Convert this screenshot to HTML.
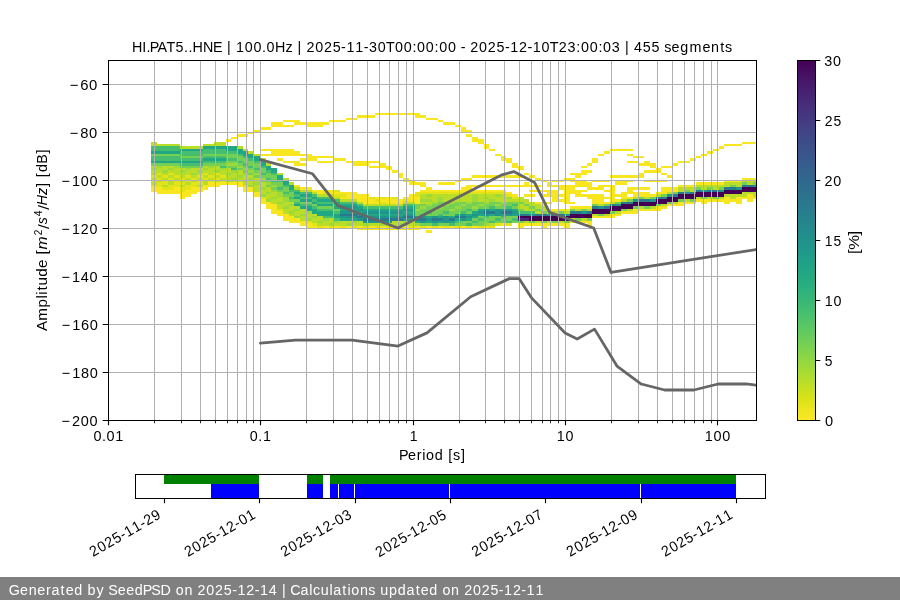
<!DOCTYPE html>
<html><head><meta charset="utf-8"><title>PPSD HI.PAT5..HNE</title><style>html,body{margin:0;padding:0;background:#fff;overflow:hidden}svg{display:block;will-change:transform}text{font-family:"Liberation Sans",sans-serif;}</style></head><body>
<svg width="900" height="600" viewBox="0 0 900 600">
<defs><clipPath id="axclip"><rect x="108" y="60" width="648" height="360"/></clipPath>
<linearGradient id="cbgrad" x1="0" y1="0" x2="0" y2="1"><stop offset="0.0000" stop-color="#440154"/><stop offset="0.0625" stop-color="#48186a"/><stop offset="0.1250" stop-color="#472d7b"/><stop offset="0.1875" stop-color="#424086"/><stop offset="0.2500" stop-color="#3b528b"/><stop offset="0.3125" stop-color="#33638d"/><stop offset="0.3750" stop-color="#2c728e"/><stop offset="0.4375" stop-color="#26828e"/><stop offset="0.5000" stop-color="#21918c"/><stop offset="0.5625" stop-color="#1fa088"/><stop offset="0.6250" stop-color="#28ae80"/><stop offset="0.6875" stop-color="#3fbc73"/><stop offset="0.7500" stop-color="#5ec962"/><stop offset="0.8125" stop-color="#84d44b"/><stop offset="0.8750" stop-color="#addc30"/><stop offset="0.9375" stop-color="#d8e219"/><stop offset="1.0000" stop-color="#fde725"/></linearGradient></defs>
<rect width="900" height="600" fill="#fff"/>
<g clip-path="url(#axclip)" shape-rendering="crispEdges"><rect x="151.00" y="141.6" width="5.75" height="4.8" fill="#bade28"/><rect x="151.00" y="146.4" width="5.75" height="4.8" fill="#45bf6f"/><rect x="151.00" y="151.2" width="5.75" height="2.4" fill="#22a785"/><rect x="151.00" y="153.6" width="5.75" height="2.4" fill="#74d055"/><rect x="151.00" y="156.0" width="5.75" height="4.8" fill="#45bf6f"/><rect x="151.00" y="160.8" width="5.75" height="2.4" fill="#22a785"/><rect x="151.00" y="163.2" width="5.75" height="2.4" fill="#74d055"/><rect x="151.00" y="165.6" width="5.75" height="2.4" fill="#bade28"/><rect x="151.00" y="168.0" width="5.75" height="2.4" fill="#9cd93b"/><rect x="151.00" y="170.4" width="5.75" height="4.8" fill="#bade28"/><rect x="151.00" y="175.2" width="5.75" height="2.4" fill="#e2e418"/><rect x="151.00" y="177.6" width="5.75" height="2.4" fill="#bade28"/><rect x="151.00" y="180.0" width="5.75" height="2.4" fill="#e2e418"/><rect x="151.00" y="182.4" width="5.75" height="2.4" fill="#bade28"/><rect x="151.00" y="184.8" width="5.75" height="2.4" fill="#e2e418"/><rect x="151.00" y="187.2" width="5.75" height="4.8" fill="#f7e620"/><rect x="156.73" y="144.0" width="5.75" height="2.4" fill="#bade28"/><rect x="156.73" y="146.4" width="5.75" height="4.8" fill="#45bf6f"/><rect x="156.73" y="151.2" width="5.75" height="2.4" fill="#22a785"/><rect x="156.73" y="153.6" width="5.75" height="2.4" fill="#74d055"/><rect x="156.73" y="156.0" width="5.75" height="4.8" fill="#45bf6f"/><rect x="156.73" y="160.8" width="5.75" height="2.4" fill="#22a785"/><rect x="156.73" y="163.2" width="5.75" height="2.4" fill="#74d055"/><rect x="156.73" y="165.6" width="5.75" height="2.4" fill="#9cd93b"/><rect x="156.73" y="168.0" width="5.75" height="4.8" fill="#bade28"/><rect x="156.73" y="172.8" width="5.75" height="2.4" fill="#e2e418"/><rect x="156.73" y="175.2" width="5.75" height="2.4" fill="#bade28"/><rect x="156.73" y="177.6" width="5.75" height="2.4" fill="#e2e418"/><rect x="156.73" y="180.0" width="5.75" height="2.4" fill="#bade28"/><rect x="156.73" y="182.4" width="5.75" height="4.8" fill="#e2e418"/><rect x="156.73" y="187.2" width="5.75" height="7.2" fill="#f7e620"/><rect x="162.47" y="144.0" width="5.75" height="2.4" fill="#bade28"/><rect x="162.47" y="146.4" width="5.75" height="4.8" fill="#45bf6f"/><rect x="162.47" y="151.2" width="5.75" height="2.4" fill="#22a785"/><rect x="162.47" y="153.6" width="5.75" height="2.4" fill="#74d055"/><rect x="162.47" y="156.0" width="5.75" height="4.8" fill="#45bf6f"/><rect x="162.47" y="160.8" width="5.75" height="2.4" fill="#22a785"/><rect x="162.47" y="163.2" width="5.75" height="2.4" fill="#74d055"/><rect x="162.47" y="165.6" width="5.75" height="4.8" fill="#bade28"/><rect x="162.47" y="170.4" width="5.75" height="2.4" fill="#9cd93b"/><rect x="162.47" y="172.8" width="5.75" height="2.4" fill="#bade28"/><rect x="162.47" y="175.2" width="5.75" height="2.4" fill="#e2e418"/><rect x="162.47" y="177.6" width="5.75" height="2.4" fill="#bade28"/><rect x="162.47" y="180.0" width="5.75" height="4.8" fill="#e2e418"/><rect x="162.47" y="184.8" width="5.75" height="2.4" fill="#bade28"/><rect x="162.47" y="187.2" width="5.75" height="2.4" fill="#e2e418"/><rect x="162.47" y="189.6" width="5.75" height="4.8" fill="#f7e620"/><rect x="168.20" y="144.0" width="5.75" height="2.4" fill="#bade28"/><rect x="168.20" y="146.4" width="5.75" height="4.8" fill="#45bf6f"/><rect x="168.20" y="151.2" width="5.75" height="2.4" fill="#22a785"/><rect x="168.20" y="153.6" width="5.75" height="2.4" fill="#74d055"/><rect x="168.20" y="156.0" width="5.75" height="4.8" fill="#45bf6f"/><rect x="168.20" y="160.8" width="5.75" height="2.4" fill="#22a785"/><rect x="168.20" y="163.2" width="5.75" height="2.4" fill="#74d055"/><rect x="168.20" y="165.6" width="5.75" height="2.4" fill="#bade28"/><rect x="168.20" y="168.0" width="5.75" height="2.4" fill="#9cd93b"/><rect x="168.20" y="170.4" width="5.75" height="2.4" fill="#bade28"/><rect x="168.20" y="172.8" width="5.75" height="2.4" fill="#e2e418"/><rect x="168.20" y="175.2" width="5.75" height="2.4" fill="#bade28"/><rect x="168.20" y="177.6" width="5.75" height="2.4" fill="#e2e418"/><rect x="168.20" y="180.0" width="5.75" height="4.8" fill="#bade28"/><rect x="168.20" y="184.8" width="5.75" height="4.8" fill="#e2e418"/><rect x="168.20" y="189.6" width="5.75" height="4.8" fill="#f7e620"/><rect x="173.93" y="144.0" width="5.75" height="2.4" fill="#bade28"/><rect x="173.93" y="146.4" width="5.75" height="4.8" fill="#45bf6f"/><rect x="173.93" y="151.2" width="5.75" height="2.4" fill="#22a785"/><rect x="173.93" y="153.6" width="5.75" height="2.4" fill="#74d055"/><rect x="173.93" y="156.0" width="5.75" height="4.8" fill="#45bf6f"/><rect x="173.93" y="160.8" width="5.75" height="2.4" fill="#22a785"/><rect x="173.93" y="163.2" width="5.75" height="2.4" fill="#74d055"/><rect x="173.93" y="165.6" width="5.75" height="2.4" fill="#9cd93b"/><rect x="173.93" y="168.0" width="5.75" height="7.2" fill="#bade28"/><rect x="173.93" y="175.2" width="5.75" height="2.4" fill="#e2e418"/><rect x="173.93" y="177.6" width="5.75" height="2.4" fill="#bade28"/><rect x="173.93" y="180.0" width="5.75" height="7.2" fill="#e2e418"/><rect x="173.93" y="187.2" width="5.75" height="7.2" fill="#f7e620"/><rect x="179.66" y="146.4" width="5.75" height="2.4" fill="#bade28"/><rect x="179.66" y="148.8" width="5.75" height="2.4" fill="#22a785"/><rect x="179.66" y="151.2" width="5.75" height="4.8" fill="#45bf6f"/><rect x="179.66" y="156.0" width="5.75" height="2.4" fill="#74d055"/><rect x="179.66" y="158.4" width="5.75" height="2.4" fill="#45bf6f"/><rect x="179.66" y="160.8" width="5.75" height="2.4" fill="#22a785"/><rect x="179.66" y="163.2" width="5.75" height="2.4" fill="#45bf6f"/><rect x="179.66" y="165.6" width="5.75" height="2.4" fill="#74d055"/><rect x="179.66" y="168.0" width="5.75" height="2.4" fill="#bade28"/><rect x="179.66" y="170.4" width="5.75" height="2.4" fill="#9cd93b"/><rect x="179.66" y="172.8" width="5.75" height="4.8" fill="#bade28"/><rect x="179.66" y="177.6" width="5.75" height="2.4" fill="#e2e418"/><rect x="179.66" y="180.0" width="5.75" height="2.4" fill="#bade28"/><rect x="179.66" y="182.4" width="5.75" height="2.4" fill="#e2e418"/><rect x="179.66" y="184.8" width="5.75" height="2.4" fill="#bade28"/><rect x="179.66" y="187.2" width="5.75" height="4.8" fill="#e2e418"/><rect x="179.66" y="192.0" width="5.75" height="7.2" fill="#f7e620"/><rect x="185.40" y="146.4" width="5.75" height="2.4" fill="#bade28"/><rect x="185.40" y="148.8" width="5.75" height="2.4" fill="#22a785"/><rect x="185.40" y="151.2" width="5.75" height="4.8" fill="#45bf6f"/><rect x="185.40" y="156.0" width="5.75" height="2.4" fill="#74d055"/><rect x="185.40" y="158.4" width="5.75" height="2.4" fill="#45bf6f"/><rect x="185.40" y="160.8" width="5.75" height="2.4" fill="#22a785"/><rect x="185.40" y="163.2" width="5.75" height="2.4" fill="#45bf6f"/><rect x="185.40" y="165.6" width="5.75" height="2.4" fill="#74d055"/><rect x="185.40" y="168.0" width="5.75" height="2.4" fill="#9cd93b"/><rect x="185.40" y="170.4" width="5.75" height="4.8" fill="#bade28"/><rect x="185.40" y="175.2" width="5.75" height="2.4" fill="#e2e418"/><rect x="185.40" y="177.6" width="5.75" height="2.4" fill="#bade28"/><rect x="185.40" y="180.0" width="5.75" height="2.4" fill="#e2e418"/><rect x="185.40" y="182.4" width="5.75" height="2.4" fill="#bade28"/><rect x="185.40" y="184.8" width="5.75" height="4.8" fill="#e2e418"/><rect x="185.40" y="189.6" width="5.75" height="7.2" fill="#f7e620"/><rect x="191.13" y="146.4" width="5.75" height="2.4" fill="#bade28"/><rect x="191.13" y="148.8" width="5.75" height="2.4" fill="#22a785"/><rect x="191.13" y="151.2" width="5.75" height="4.8" fill="#45bf6f"/><rect x="191.13" y="156.0" width="5.75" height="2.4" fill="#74d055"/><rect x="191.13" y="158.4" width="5.75" height="2.4" fill="#45bf6f"/><rect x="191.13" y="160.8" width="5.75" height="2.4" fill="#22a785"/><rect x="191.13" y="163.2" width="5.75" height="2.4" fill="#45bf6f"/><rect x="191.13" y="165.6" width="5.75" height="2.4" fill="#74d055"/><rect x="191.13" y="168.0" width="5.75" height="4.8" fill="#bade28"/><rect x="191.13" y="172.8" width="5.75" height="2.4" fill="#9cd93b"/><rect x="191.13" y="175.2" width="5.75" height="2.4" fill="#bade28"/><rect x="191.13" y="177.6" width="5.75" height="2.4" fill="#e2e418"/><rect x="191.13" y="180.0" width="5.75" height="2.4" fill="#bade28"/><rect x="191.13" y="182.4" width="5.75" height="4.8" fill="#e2e418"/><rect x="191.13" y="187.2" width="5.75" height="7.2" fill="#f7e620"/><rect x="196.86" y="146.4" width="5.75" height="2.4" fill="#bade28"/><rect x="196.86" y="148.8" width="5.75" height="2.4" fill="#22a785"/><rect x="196.86" y="151.2" width="5.75" height="4.8" fill="#45bf6f"/><rect x="196.86" y="156.0" width="5.75" height="2.4" fill="#74d055"/><rect x="196.86" y="158.4" width="5.75" height="2.4" fill="#45bf6f"/><rect x="196.86" y="160.8" width="5.75" height="2.4" fill="#22a785"/><rect x="196.86" y="163.2" width="5.75" height="2.4" fill="#45bf6f"/><rect x="196.86" y="165.6" width="5.75" height="2.4" fill="#74d055"/><rect x="196.86" y="168.0" width="5.75" height="2.4" fill="#bade28"/><rect x="196.86" y="170.4" width="5.75" height="2.4" fill="#9cd93b"/><rect x="196.86" y="172.8" width="5.75" height="2.4" fill="#bade28"/><rect x="196.86" y="175.2" width="5.75" height="2.4" fill="#e2e418"/><rect x="196.86" y="177.6" width="5.75" height="2.4" fill="#bade28"/><rect x="196.86" y="180.0" width="5.75" height="4.8" fill="#e2e418"/><rect x="196.86" y="184.8" width="5.75" height="2.4" fill="#bade28"/><rect x="196.86" y="187.2" width="5.75" height="4.8" fill="#f7e620"/><rect x="202.60" y="144.0" width="5.75" height="2.4" fill="#bade28"/><rect x="202.60" y="146.4" width="5.75" height="2.4" fill="#22a785"/><rect x="202.60" y="148.8" width="5.75" height="4.8" fill="#45bf6f"/><rect x="202.60" y="153.6" width="5.75" height="2.4" fill="#74d055"/><rect x="202.60" y="156.0" width="5.75" height="2.4" fill="#45bf6f"/><rect x="202.60" y="158.4" width="5.75" height="2.4" fill="#22a785"/><rect x="202.60" y="160.8" width="5.75" height="2.4" fill="#45bf6f"/><rect x="202.60" y="163.2" width="5.75" height="2.4" fill="#74d055"/><rect x="202.60" y="165.6" width="5.75" height="2.4" fill="#bade28"/><rect x="202.60" y="168.0" width="5.75" height="2.4" fill="#9cd93b"/><rect x="202.60" y="170.4" width="5.75" height="2.4" fill="#bade28"/><rect x="202.60" y="172.8" width="5.75" height="2.4" fill="#e2e418"/><rect x="202.60" y="175.2" width="5.75" height="2.4" fill="#bade28"/><rect x="202.60" y="177.6" width="5.75" height="2.4" fill="#e2e418"/><rect x="202.60" y="180.0" width="5.75" height="4.8" fill="#bade28"/><rect x="202.60" y="184.8" width="5.75" height="4.8" fill="#f7e620"/><rect x="208.33" y="144.0" width="5.75" height="2.4" fill="#bade28"/><rect x="208.33" y="146.4" width="5.75" height="2.4" fill="#22a785"/><rect x="208.33" y="148.8" width="5.75" height="4.8" fill="#45bf6f"/><rect x="208.33" y="153.6" width="5.75" height="2.4" fill="#74d055"/><rect x="208.33" y="156.0" width="5.75" height="2.4" fill="#45bf6f"/><rect x="208.33" y="158.4" width="5.75" height="2.4" fill="#22a785"/><rect x="208.33" y="160.8" width="5.75" height="2.4" fill="#45bf6f"/><rect x="208.33" y="163.2" width="5.75" height="2.4" fill="#74d055"/><rect x="208.33" y="165.6" width="5.75" height="2.4" fill="#9cd93b"/><rect x="208.33" y="168.0" width="5.75" height="7.2" fill="#bade28"/><rect x="208.33" y="175.2" width="5.75" height="2.4" fill="#e2e418"/><rect x="208.33" y="177.6" width="5.75" height="2.4" fill="#bade28"/><rect x="208.33" y="180.0" width="5.75" height="2.4" fill="#e2e418"/><rect x="208.33" y="182.4" width="5.75" height="4.8" fill="#f7e620"/><rect x="214.06" y="141.6" width="5.75" height="4.8" fill="#bade28"/><rect x="214.06" y="146.4" width="5.75" height="2.4" fill="#22a785"/><rect x="214.06" y="148.8" width="5.75" height="4.8" fill="#45bf6f"/><rect x="214.06" y="153.6" width="5.75" height="2.4" fill="#74d055"/><rect x="214.06" y="156.0" width="5.75" height="2.4" fill="#45bf6f"/><rect x="214.06" y="158.4" width="5.75" height="2.4" fill="#22a785"/><rect x="214.06" y="160.8" width="5.75" height="2.4" fill="#45bf6f"/><rect x="214.06" y="163.2" width="5.75" height="2.4" fill="#74d055"/><rect x="214.06" y="165.6" width="5.75" height="4.8" fill="#bade28"/><rect x="214.06" y="170.4" width="5.75" height="2.4" fill="#9cd93b"/><rect x="214.06" y="172.8" width="5.75" height="2.4" fill="#e2e418"/><rect x="214.06" y="175.2" width="5.75" height="2.4" fill="#bade28"/><rect x="214.06" y="177.6" width="5.75" height="2.4" fill="#e2e418"/><rect x="214.06" y="180.0" width="5.75" height="2.4" fill="#bade28"/><rect x="214.06" y="182.4" width="5.75" height="4.8" fill="#f7e620"/><rect x="219.80" y="141.6" width="5.75" height="4.8" fill="#bade28"/><rect x="219.80" y="146.4" width="5.75" height="2.4" fill="#22a785"/><rect x="219.80" y="148.8" width="5.75" height="4.8" fill="#45bf6f"/><rect x="219.80" y="153.6" width="5.75" height="2.4" fill="#74d055"/><rect x="219.80" y="156.0" width="5.75" height="2.4" fill="#45bf6f"/><rect x="219.80" y="158.4" width="5.75" height="2.4" fill="#22a785"/><rect x="219.80" y="160.8" width="5.75" height="2.4" fill="#45bf6f"/><rect x="219.80" y="163.2" width="5.75" height="2.4" fill="#74d055"/><rect x="219.80" y="165.6" width="5.75" height="2.4" fill="#45bf6f"/><rect x="219.80" y="168.0" width="5.75" height="2.4" fill="#9cd93b"/><rect x="219.80" y="170.4" width="5.75" height="4.8" fill="#bade28"/><rect x="219.80" y="175.2" width="5.75" height="2.4" fill="#e2e418"/><rect x="219.80" y="177.6" width="5.75" height="2.4" fill="#bade28"/><rect x="219.80" y="180.0" width="5.75" height="2.4" fill="#e2e418"/><rect x="219.80" y="182.4" width="5.75" height="2.4" fill="#f7e620"/><rect x="225.53" y="139.2" width="5.75" height="2.4" fill="#f7e620"/><rect x="225.53" y="146.4" width="5.75" height="4.8" fill="#22a785"/><rect x="225.53" y="151.2" width="5.75" height="2.4" fill="#45bf6f"/><rect x="225.53" y="153.6" width="5.75" height="4.8" fill="#74d055"/><rect x="225.53" y="158.4" width="5.75" height="2.4" fill="#45bf6f"/><rect x="225.53" y="160.8" width="5.75" height="2.4" fill="#74d055"/><rect x="225.53" y="163.2" width="5.75" height="2.4" fill="#9cd93b"/><rect x="225.53" y="165.6" width="5.75" height="2.4" fill="#74d055"/><rect x="225.53" y="168.0" width="5.75" height="4.8" fill="#bade28"/><rect x="225.53" y="172.8" width="5.75" height="2.4" fill="#9cd93b"/><rect x="225.53" y="175.2" width="5.75" height="4.8" fill="#bade28"/><rect x="225.53" y="180.0" width="5.75" height="2.4" fill="#9cd93b"/><rect x="225.53" y="182.4" width="5.75" height="2.4" fill="#f7e620"/><rect x="231.26" y="136.8" width="5.75" height="2.4" fill="#f7e620"/><rect x="231.26" y="146.4" width="5.75" height="4.8" fill="#22a785"/><rect x="231.26" y="151.2" width="5.75" height="2.4" fill="#45bf6f"/><rect x="231.26" y="153.6" width="5.75" height="4.8" fill="#74d055"/><rect x="231.26" y="158.4" width="5.75" height="2.4" fill="#45bf6f"/><rect x="231.26" y="160.8" width="5.75" height="2.4" fill="#74d055"/><rect x="231.26" y="163.2" width="5.75" height="2.4" fill="#9cd93b"/><rect x="231.26" y="165.6" width="5.75" height="2.4" fill="#74d055"/><rect x="231.26" y="168.0" width="5.75" height="2.4" fill="#45bf6f"/><rect x="231.26" y="170.4" width="5.75" height="2.4" fill="#9cd93b"/><rect x="231.26" y="172.8" width="5.75" height="4.8" fill="#bade28"/><rect x="231.26" y="177.6" width="5.75" height="2.4" fill="#9cd93b"/><rect x="231.26" y="180.0" width="5.75" height="2.4" fill="#bade28"/><rect x="231.26" y="182.4" width="5.75" height="2.4" fill="#f7e620"/><rect x="237.00" y="134.4" width="5.75" height="2.4" fill="#f7e620"/><rect x="237.00" y="146.4" width="5.75" height="2.4" fill="#bade28"/><rect x="237.00" y="148.8" width="5.75" height="4.8" fill="#22a785"/><rect x="237.00" y="153.6" width="5.75" height="2.4" fill="#45bf6f"/><rect x="237.00" y="156.0" width="5.75" height="4.8" fill="#74d055"/><rect x="237.00" y="160.8" width="5.75" height="2.4" fill="#45bf6f"/><rect x="237.00" y="163.2" width="5.75" height="2.4" fill="#74d055"/><rect x="237.00" y="165.6" width="5.75" height="2.4" fill="#9cd93b"/><rect x="237.00" y="168.0" width="5.75" height="2.4" fill="#74d055"/><rect x="237.00" y="170.4" width="5.75" height="4.8" fill="#bade28"/><rect x="237.00" y="175.2" width="5.75" height="2.4" fill="#9cd93b"/><rect x="237.00" y="177.6" width="5.75" height="4.8" fill="#bade28"/><rect x="237.00" y="182.4" width="5.75" height="4.8" fill="#f7e620"/><rect x="242.73" y="134.4" width="5.75" height="2.4" fill="#f7e620"/><rect x="242.73" y="148.8" width="5.75" height="2.4" fill="#bade28"/><rect x="242.73" y="151.2" width="5.75" height="4.8" fill="#22a785"/><rect x="242.73" y="156.0" width="5.75" height="2.4" fill="#45bf6f"/><rect x="242.73" y="158.4" width="5.75" height="4.8" fill="#74d055"/><rect x="242.73" y="163.2" width="5.75" height="2.4" fill="#45bf6f"/><rect x="242.73" y="165.6" width="5.75" height="2.4" fill="#74d055"/><rect x="242.73" y="168.0" width="5.75" height="2.4" fill="#9cd93b"/><rect x="242.73" y="170.4" width="5.75" height="2.4" fill="#74d055"/><rect x="242.73" y="172.8" width="5.75" height="2.4" fill="#9cd93b"/><rect x="242.73" y="175.2" width="5.75" height="4.8" fill="#bade28"/><rect x="242.73" y="180.0" width="5.75" height="2.4" fill="#9cd93b"/><rect x="242.73" y="182.4" width="5.75" height="2.4" fill="#bade28"/><rect x="242.73" y="184.8" width="5.75" height="2.4" fill="#e2e418"/><rect x="242.73" y="187.2" width="5.75" height="4.8" fill="#f7e620"/><rect x="248.46" y="132.0" width="5.75" height="2.4" fill="#f7e620"/><rect x="248.46" y="151.2" width="5.75" height="2.4" fill="#bade28"/><rect x="248.46" y="153.6" width="5.75" height="4.8" fill="#22a785"/><rect x="248.46" y="158.4" width="5.75" height="2.4" fill="#45bf6f"/><rect x="248.46" y="160.8" width="5.75" height="4.8" fill="#74d055"/><rect x="248.46" y="165.6" width="5.75" height="2.4" fill="#45bf6f"/><rect x="248.46" y="168.0" width="5.75" height="2.4" fill="#74d055"/><rect x="248.46" y="170.4" width="5.75" height="2.4" fill="#9cd93b"/><rect x="248.46" y="172.8" width="5.75" height="2.4" fill="#74d055"/><rect x="248.46" y="175.2" width="5.75" height="2.4" fill="#bade28"/><rect x="248.46" y="177.6" width="5.75" height="2.4" fill="#9cd93b"/><rect x="248.46" y="180.0" width="5.75" height="4.8" fill="#bade28"/><rect x="248.46" y="184.8" width="5.75" height="2.4" fill="#9cd93b"/><rect x="248.46" y="187.2" width="5.75" height="4.8" fill="#f7e620"/><rect x="254.19" y="129.6" width="5.75" height="2.4" fill="#f7e620"/><rect x="254.19" y="153.6" width="5.75" height="2.4" fill="#bade28"/><rect x="254.19" y="156.0" width="5.75" height="4.8" fill="#22a785"/><rect x="254.19" y="160.8" width="5.75" height="2.4" fill="#45bf6f"/><rect x="254.19" y="163.2" width="5.75" height="4.8" fill="#74d055"/><rect x="254.19" y="168.0" width="5.75" height="2.4" fill="#45bf6f"/><rect x="254.19" y="170.4" width="5.75" height="2.4" fill="#74d055"/><rect x="254.19" y="172.8" width="5.75" height="2.4" fill="#9cd93b"/><rect x="254.19" y="175.2" width="5.75" height="2.4" fill="#74d055"/><rect x="254.19" y="177.6" width="5.75" height="4.8" fill="#bade28"/><rect x="254.19" y="182.4" width="5.75" height="2.4" fill="#9cd93b"/><rect x="254.19" y="184.8" width="5.75" height="7.2" fill="#bade28"/><rect x="254.19" y="192.0" width="5.75" height="4.8" fill="#f7e620"/><rect x="259.93" y="127.2" width="5.75" height="2.4" fill="#f7e620"/><rect x="259.93" y="148.8" width="5.75" height="2.4" fill="#f7e620"/><rect x="259.93" y="153.6" width="5.75" height="2.4" fill="#f7e620"/><rect x="259.93" y="158.4" width="5.75" height="2.4" fill="#bade28"/><rect x="259.93" y="160.8" width="5.75" height="4.8" fill="#22a785"/><rect x="259.93" y="165.6" width="5.75" height="2.4" fill="#45bf6f"/><rect x="259.93" y="168.0" width="5.75" height="4.8" fill="#74d055"/><rect x="259.93" y="172.8" width="5.75" height="2.4" fill="#45bf6f"/><rect x="259.93" y="175.2" width="5.75" height="2.4" fill="#74d055"/><rect x="259.93" y="177.6" width="5.75" height="2.4" fill="#9cd93b"/><rect x="259.93" y="180.0" width="5.75" height="2.4" fill="#74d055"/><rect x="259.93" y="182.4" width="5.75" height="4.8" fill="#bade28"/><rect x="259.93" y="187.2" width="5.75" height="2.4" fill="#9cd93b"/><rect x="259.93" y="189.6" width="5.75" height="4.8" fill="#bade28"/><rect x="259.93" y="194.4" width="5.75" height="2.4" fill="#9cd93b"/><rect x="259.93" y="196.8" width="5.75" height="2.4" fill="#e2e418"/><rect x="259.93" y="199.2" width="5.75" height="4.8" fill="#f7e620"/><rect x="265.66" y="127.2" width="5.75" height="2.4" fill="#f7e620"/><rect x="265.66" y="148.8" width="5.75" height="2.4" fill="#f7e620"/><rect x="265.66" y="153.6" width="5.75" height="2.4" fill="#f7e620"/><rect x="265.66" y="163.2" width="5.75" height="2.4" fill="#bade28"/><rect x="265.66" y="165.6" width="5.75" height="4.8" fill="#22a785"/><rect x="265.66" y="170.4" width="5.75" height="2.4" fill="#45bf6f"/><rect x="265.66" y="172.8" width="5.75" height="4.8" fill="#74d055"/><rect x="265.66" y="177.6" width="5.75" height="2.4" fill="#45bf6f"/><rect x="265.66" y="180.0" width="5.75" height="2.4" fill="#74d055"/><rect x="265.66" y="182.4" width="5.75" height="2.4" fill="#9cd93b"/><rect x="265.66" y="184.8" width="5.75" height="2.4" fill="#74d055"/><rect x="265.66" y="187.2" width="5.75" height="4.8" fill="#bade28"/><rect x="265.66" y="192.0" width="5.75" height="2.4" fill="#9cd93b"/><rect x="265.66" y="194.4" width="5.75" height="4.8" fill="#bade28"/><rect x="265.66" y="199.2" width="5.75" height="2.4" fill="#9cd93b"/><rect x="265.66" y="201.6" width="5.75" height="7.2" fill="#f7e620"/><rect x="271.39" y="122.4" width="5.75" height="4.8" fill="#f7e620"/><rect x="271.39" y="148.8" width="5.75" height="7.2" fill="#f7e620"/><rect x="271.39" y="168.0" width="5.75" height="4.8" fill="#22a785"/><rect x="271.39" y="172.8" width="5.75" height="2.4" fill="#45bf6f"/><rect x="271.39" y="175.2" width="5.75" height="4.8" fill="#74d055"/><rect x="271.39" y="180.0" width="5.75" height="2.4" fill="#45bf6f"/><rect x="271.39" y="182.4" width="5.75" height="2.4" fill="#74d055"/><rect x="271.39" y="184.8" width="5.75" height="2.4" fill="#9cd93b"/><rect x="271.39" y="187.2" width="5.75" height="2.4" fill="#74d055"/><rect x="271.39" y="189.6" width="5.75" height="2.4" fill="#9cd93b"/><rect x="271.39" y="192.0" width="5.75" height="4.8" fill="#bade28"/><rect x="271.39" y="196.8" width="5.75" height="2.4" fill="#9cd93b"/><rect x="271.39" y="199.2" width="5.75" height="4.8" fill="#bade28"/><rect x="271.39" y="204.0" width="5.75" height="9.6" fill="#f7e620"/><rect x="277.13" y="122.4" width="5.75" height="4.8" fill="#f7e620"/><rect x="277.13" y="148.8" width="5.75" height="7.2" fill="#f7e620"/><rect x="277.13" y="158.4" width="5.75" height="2.4" fill="#f7e620"/><rect x="277.13" y="172.8" width="5.75" height="2.4" fill="#bade28"/><rect x="277.13" y="175.2" width="5.75" height="4.8" fill="#22a785"/><rect x="277.13" y="180.0" width="5.75" height="2.4" fill="#45bf6f"/><rect x="277.13" y="182.4" width="5.75" height="4.8" fill="#74d055"/><rect x="277.13" y="187.2" width="5.75" height="2.4" fill="#45bf6f"/><rect x="277.13" y="189.6" width="5.75" height="2.4" fill="#74d055"/><rect x="277.13" y="192.0" width="5.75" height="4.8" fill="#9cd93b"/><rect x="277.13" y="196.8" width="5.75" height="4.8" fill="#bade28"/><rect x="277.13" y="201.6" width="5.75" height="2.4" fill="#9cd93b"/><rect x="277.13" y="204.0" width="5.75" height="4.8" fill="#bade28"/><rect x="277.13" y="208.8" width="5.75" height="2.4" fill="#e2e418"/><rect x="277.13" y="211.2" width="5.75" height="4.8" fill="#f7e620"/><rect x="282.86" y="120.0" width="5.75" height="2.4" fill="#f7e620"/><rect x="282.86" y="124.8" width="5.75" height="2.4" fill="#f7e620"/><rect x="282.86" y="148.8" width="5.75" height="7.2" fill="#f7e620"/><rect x="282.86" y="160.8" width="5.75" height="2.4" fill="#f7e620"/><rect x="282.86" y="177.6" width="5.75" height="2.4" fill="#bade28"/><rect x="282.86" y="180.0" width="5.75" height="4.8" fill="#22a785"/><rect x="282.86" y="184.8" width="5.75" height="2.4" fill="#45bf6f"/><rect x="282.86" y="187.2" width="5.75" height="4.8" fill="#74d055"/><rect x="282.86" y="192.0" width="5.75" height="2.4" fill="#45bf6f"/><rect x="282.86" y="194.4" width="5.75" height="2.4" fill="#74d055"/><rect x="282.86" y="196.8" width="5.75" height="4.8" fill="#9cd93b"/><rect x="282.86" y="201.6" width="5.75" height="4.8" fill="#bade28"/><rect x="282.86" y="206.4" width="5.75" height="2.4" fill="#9cd93b"/><rect x="282.86" y="208.8" width="5.75" height="4.8" fill="#bade28"/><rect x="282.86" y="213.6" width="5.75" height="7.2" fill="#f7e620"/><rect x="288.59" y="120.0" width="5.75" height="2.4" fill="#f7e620"/><rect x="288.59" y="124.8" width="5.75" height="2.4" fill="#f7e620"/><rect x="288.59" y="148.8" width="5.75" height="7.2" fill="#f7e620"/><rect x="288.59" y="160.8" width="5.75" height="2.4" fill="#f7e620"/><rect x="288.59" y="182.4" width="5.75" height="2.4" fill="#bade28"/><rect x="288.59" y="184.8" width="5.75" height="4.8" fill="#22a785"/><rect x="288.59" y="189.6" width="5.75" height="2.4" fill="#45bf6f"/><rect x="288.59" y="192.0" width="5.75" height="4.8" fill="#74d055"/><rect x="288.59" y="196.8" width="5.75" height="2.4" fill="#45bf6f"/><rect x="288.59" y="199.2" width="5.75" height="2.4" fill="#74d055"/><rect x="288.59" y="201.6" width="5.75" height="2.4" fill="#bade28"/><rect x="288.59" y="204.0" width="5.75" height="2.4" fill="#9cd93b"/><rect x="288.59" y="206.4" width="5.75" height="4.8" fill="#bade28"/><rect x="288.59" y="211.2" width="5.75" height="2.4" fill="#9cd93b"/><rect x="288.59" y="213.6" width="5.75" height="2.4" fill="#bade28"/><rect x="288.59" y="216.0" width="5.75" height="7.2" fill="#f7e620"/><rect x="294.32" y="120.0" width="5.75" height="4.8" fill="#f7e620"/><rect x="294.32" y="151.2" width="5.75" height="4.8" fill="#f7e620"/><rect x="294.32" y="160.8" width="5.75" height="4.8" fill="#f7e620"/><rect x="294.32" y="184.8" width="5.75" height="2.4" fill="#f7e620"/><rect x="294.32" y="187.2" width="5.75" height="2.4" fill="#bade28"/><rect x="294.32" y="189.6" width="5.75" height="2.4" fill="#45bf6f"/><rect x="294.32" y="192.0" width="5.75" height="2.4" fill="#22a785"/><rect x="294.32" y="194.4" width="5.75" height="2.4" fill="#45bf6f"/><rect x="294.32" y="196.8" width="5.75" height="2.4" fill="#22a785"/><rect x="294.32" y="199.2" width="5.75" height="2.4" fill="#74d055"/><rect x="294.32" y="201.6" width="5.75" height="2.4" fill="#45bf6f"/><rect x="294.32" y="204.0" width="5.75" height="2.4" fill="#22a785"/><rect x="294.32" y="206.4" width="5.75" height="2.4" fill="#bade28"/><rect x="294.32" y="208.8" width="5.75" height="2.4" fill="#9cd93b"/><rect x="294.32" y="211.2" width="5.75" height="4.8" fill="#bade28"/><rect x="294.32" y="216.0" width="5.75" height="2.4" fill="#9cd93b"/><rect x="294.32" y="218.4" width="5.75" height="4.8" fill="#f7e620"/><rect x="300.06" y="122.4" width="5.75" height="2.4" fill="#f7e620"/><rect x="300.06" y="153.6" width="5.75" height="2.4" fill="#f7e620"/><rect x="300.06" y="158.4" width="5.75" height="2.4" fill="#f7e620"/><rect x="300.06" y="163.2" width="5.75" height="2.4" fill="#f7e620"/><rect x="300.06" y="187.2" width="5.75" height="2.4" fill="#f7e620"/><rect x="300.06" y="189.6" width="5.75" height="2.4" fill="#bade28"/><rect x="300.06" y="192.0" width="5.75" height="2.4" fill="#45bf6f"/><rect x="300.06" y="194.4" width="5.75" height="2.4" fill="#22a785"/><rect x="300.06" y="196.8" width="5.75" height="2.4" fill="#45bf6f"/><rect x="300.06" y="199.2" width="5.75" height="2.4" fill="#22a785"/><rect x="300.06" y="201.6" width="5.75" height="2.4" fill="#74d055"/><rect x="300.06" y="204.0" width="5.75" height="2.4" fill="#45bf6f"/><rect x="300.06" y="206.4" width="5.75" height="2.4" fill="#22a785"/><rect x="300.06" y="208.8" width="5.75" height="4.8" fill="#bade28"/><rect x="300.06" y="213.6" width="5.75" height="2.4" fill="#9cd93b"/><rect x="300.06" y="216.0" width="5.75" height="4.8" fill="#bade28"/><rect x="300.06" y="220.8" width="5.75" height="4.8" fill="#f7e620"/><rect x="305.79" y="122.4" width="5.75" height="4.8" fill="#f7e620"/><rect x="305.79" y="153.6" width="5.75" height="7.2" fill="#f7e620"/><rect x="305.79" y="187.2" width="5.75" height="2.4" fill="#f7e620"/><rect x="305.79" y="189.6" width="5.75" height="2.4" fill="#bade28"/><rect x="305.79" y="192.0" width="5.75" height="2.4" fill="#45bf6f"/><rect x="305.79" y="194.4" width="5.75" height="2.4" fill="#22a785"/><rect x="305.79" y="196.8" width="5.75" height="2.4" fill="#45bf6f"/><rect x="305.79" y="199.2" width="5.75" height="2.4" fill="#22a785"/><rect x="305.79" y="201.6" width="5.75" height="2.4" fill="#74d055"/><rect x="305.79" y="204.0" width="5.75" height="2.4" fill="#45bf6f"/><rect x="305.79" y="206.4" width="5.75" height="4.8" fill="#22a785"/><rect x="305.79" y="211.2" width="5.75" height="2.4" fill="#9cd93b"/><rect x="305.79" y="213.6" width="5.75" height="4.8" fill="#bade28"/><rect x="305.79" y="218.4" width="5.75" height="2.4" fill="#9cd93b"/><rect x="305.79" y="220.8" width="5.75" height="2.4" fill="#e2e418"/><rect x="305.79" y="223.2" width="5.75" height="4.8" fill="#f7e620"/><rect x="311.52" y="122.4" width="5.75" height="4.8" fill="#f7e620"/><rect x="311.52" y="156.0" width="5.75" height="4.8" fill="#f7e620"/><rect x="311.52" y="189.6" width="5.75" height="2.4" fill="#f7e620"/><rect x="311.52" y="192.0" width="5.75" height="2.4" fill="#bade28"/><rect x="311.52" y="194.4" width="5.75" height="2.4" fill="#45bf6f"/><rect x="311.52" y="196.8" width="5.75" height="2.4" fill="#22a785"/><rect x="311.52" y="199.2" width="5.75" height="2.4" fill="#45bf6f"/><rect x="311.52" y="201.6" width="5.75" height="2.4" fill="#22a785"/><rect x="311.52" y="204.0" width="5.75" height="2.4" fill="#74d055"/><rect x="311.52" y="206.4" width="5.75" height="2.4" fill="#45bf6f"/><rect x="311.52" y="208.8" width="5.75" height="4.8" fill="#22a785"/><rect x="311.52" y="213.6" width="5.75" height="2.4" fill="#bade28"/><rect x="311.52" y="216.0" width="5.75" height="2.4" fill="#9cd93b"/><rect x="311.52" y="218.4" width="5.75" height="4.8" fill="#bade28"/><rect x="311.52" y="223.2" width="5.75" height="2.4" fill="#e2e418"/><rect x="311.52" y="225.6" width="5.75" height="2.4" fill="#f7e620"/><rect x="317.26" y="122.4" width="5.75" height="4.8" fill="#f7e620"/><rect x="317.26" y="156.0" width="5.75" height="2.4" fill="#f7e620"/><rect x="317.26" y="160.8" width="5.75" height="2.4" fill="#f7e620"/><rect x="317.26" y="189.6" width="5.75" height="4.8" fill="#f7e620"/><rect x="317.26" y="194.4" width="5.75" height="2.4" fill="#bade28"/><rect x="317.26" y="196.8" width="5.75" height="2.4" fill="#45bf6f"/><rect x="317.26" y="199.2" width="5.75" height="2.4" fill="#22a785"/><rect x="317.26" y="201.6" width="5.75" height="2.4" fill="#45bf6f"/><rect x="317.26" y="204.0" width="5.75" height="2.4" fill="#22a785"/><rect x="317.26" y="206.4" width="5.75" height="2.4" fill="#74d055"/><rect x="317.26" y="208.8" width="5.75" height="2.4" fill="#45bf6f"/><rect x="317.26" y="211.2" width="5.75" height="4.8" fill="#22a785"/><rect x="317.26" y="216.0" width="5.75" height="4.8" fill="#bade28"/><rect x="317.26" y="220.8" width="5.75" height="2.4" fill="#9cd93b"/><rect x="317.26" y="223.2" width="5.75" height="2.4" fill="#bade28"/><rect x="317.26" y="225.6" width="5.75" height="2.4" fill="#e2e418"/><rect x="322.99" y="122.4" width="5.75" height="2.4" fill="#f7e620"/><rect x="322.99" y="156.0" width="5.75" height="2.4" fill="#f7e620"/><rect x="322.99" y="160.8" width="5.75" height="2.4" fill="#f7e620"/><rect x="322.99" y="189.6" width="5.75" height="2.4" fill="#f7e620"/><rect x="322.99" y="192.0" width="5.75" height="2.4" fill="#e2e418"/><rect x="322.99" y="194.4" width="5.75" height="2.4" fill="#bade28"/><rect x="322.99" y="196.8" width="5.75" height="2.4" fill="#45bf6f"/><rect x="322.99" y="199.2" width="5.75" height="2.4" fill="#22a785"/><rect x="322.99" y="201.6" width="5.75" height="2.4" fill="#45bf6f"/><rect x="322.99" y="204.0" width="5.75" height="2.4" fill="#22a785"/><rect x="322.99" y="206.4" width="5.75" height="2.4" fill="#74d055"/><rect x="322.99" y="208.8" width="5.75" height="2.4" fill="#45bf6f"/><rect x="322.99" y="211.2" width="5.75" height="4.8" fill="#22a785"/><rect x="322.99" y="216.0" width="5.75" height="2.4" fill="#45bf6f"/><rect x="322.99" y="218.4" width="5.75" height="2.4" fill="#9cd93b"/><rect x="322.99" y="220.8" width="5.75" height="4.8" fill="#bade28"/><rect x="322.99" y="225.6" width="5.75" height="2.4" fill="#f7e620"/><rect x="328.72" y="120.0" width="5.75" height="2.4" fill="#f7e620"/><rect x="328.72" y="156.0" width="5.75" height="2.4" fill="#f7e620"/><rect x="328.72" y="160.8" width="5.75" height="2.4" fill="#f7e620"/><rect x="328.72" y="189.6" width="5.75" height="4.8" fill="#f7e620"/><rect x="328.72" y="194.4" width="5.75" height="2.4" fill="#bade28"/><rect x="328.72" y="196.8" width="5.75" height="2.4" fill="#45bf6f"/><rect x="328.72" y="199.2" width="5.75" height="2.4" fill="#22a785"/><rect x="328.72" y="201.6" width="5.75" height="2.4" fill="#45bf6f"/><rect x="328.72" y="204.0" width="5.75" height="2.4" fill="#22a785"/><rect x="328.72" y="206.4" width="5.75" height="2.4" fill="#74d055"/><rect x="328.72" y="208.8" width="5.75" height="2.4" fill="#45bf6f"/><rect x="328.72" y="211.2" width="5.75" height="4.8" fill="#22a785"/><rect x="328.72" y="216.0" width="5.75" height="2.4" fill="#45bf6f"/><rect x="328.72" y="218.4" width="5.75" height="4.8" fill="#bade28"/><rect x="328.72" y="223.2" width="5.75" height="2.4" fill="#9cd93b"/><rect x="328.72" y="225.6" width="5.75" height="2.4" fill="#e2e418"/><rect x="334.46" y="120.0" width="5.75" height="2.4" fill="#f7e620"/><rect x="334.46" y="158.4" width="5.75" height="2.4" fill="#f7e620"/><rect x="334.46" y="189.6" width="5.75" height="2.4" fill="#e2e418"/><rect x="334.46" y="192.0" width="5.75" height="2.4" fill="#f7e620"/><rect x="334.46" y="194.4" width="5.75" height="2.4" fill="#e2e418"/><rect x="334.46" y="196.8" width="5.75" height="2.4" fill="#bade28"/><rect x="334.46" y="199.2" width="5.75" height="2.4" fill="#45bf6f"/><rect x="334.46" y="201.6" width="5.75" height="2.4" fill="#22a785"/><rect x="334.46" y="204.0" width="5.75" height="2.4" fill="#45bf6f"/><rect x="334.46" y="206.4" width="5.75" height="2.4" fill="#22a785"/><rect x="334.46" y="208.8" width="5.75" height="2.4" fill="#74d055"/><rect x="334.46" y="211.2" width="5.75" height="2.4" fill="#45bf6f"/><rect x="334.46" y="213.6" width="5.75" height="4.8" fill="#22a785"/><rect x="334.46" y="218.4" width="5.75" height="2.4" fill="#45bf6f"/><rect x="334.46" y="220.8" width="5.75" height="2.4" fill="#9cd93b"/><rect x="334.46" y="223.2" width="5.75" height="2.4" fill="#bade28"/><rect x="334.46" y="225.6" width="5.75" height="2.4" fill="#f7e620"/><rect x="340.19" y="120.0" width="5.75" height="2.4" fill="#f7e620"/><rect x="340.19" y="158.4" width="5.75" height="2.4" fill="#f7e620"/><rect x="340.19" y="192.0" width="5.75" height="2.4" fill="#f7e620"/><rect x="340.19" y="194.4" width="5.75" height="2.4" fill="#e2e418"/><rect x="340.19" y="196.8" width="5.75" height="2.4" fill="#f7e620"/><rect x="340.19" y="199.2" width="5.75" height="2.4" fill="#bade28"/><rect x="340.19" y="201.6" width="5.75" height="2.4" fill="#45bf6f"/><rect x="340.19" y="204.0" width="5.75" height="2.4" fill="#22a785"/><rect x="340.19" y="206.4" width="5.75" height="2.4" fill="#1f958b"/><rect x="340.19" y="208.8" width="5.75" height="2.4" fill="#22a785"/><rect x="340.19" y="211.2" width="5.75" height="2.4" fill="#1f958b"/><rect x="340.19" y="213.6" width="5.75" height="2.4" fill="#29798e"/><rect x="340.19" y="216.0" width="5.75" height="2.4" fill="#1f958b"/><rect x="340.19" y="218.4" width="5.75" height="2.4" fill="#22a785"/><rect x="340.19" y="220.8" width="5.75" height="4.8" fill="#bade28"/><rect x="340.19" y="225.6" width="5.75" height="2.4" fill="#e2e418"/><rect x="345.92" y="117.6" width="5.75" height="2.4" fill="#f7e620"/><rect x="345.92" y="160.8" width="5.75" height="2.4" fill="#f7e620"/><rect x="345.92" y="192.0" width="5.75" height="7.2" fill="#f7e620"/><rect x="345.92" y="199.2" width="5.75" height="2.4" fill="#bade28"/><rect x="345.92" y="201.6" width="5.75" height="2.4" fill="#45bf6f"/><rect x="345.92" y="204.0" width="5.75" height="2.4" fill="#22a785"/><rect x="345.92" y="206.4" width="5.75" height="2.4" fill="#1f958b"/><rect x="345.92" y="208.8" width="5.75" height="2.4" fill="#22a785"/><rect x="345.92" y="211.2" width="5.75" height="2.4" fill="#1f958b"/><rect x="345.92" y="213.6" width="5.75" height="2.4" fill="#29798e"/><rect x="345.92" y="216.0" width="5.75" height="2.4" fill="#1f958b"/><rect x="345.92" y="218.4" width="5.75" height="2.4" fill="#22a785"/><rect x="345.92" y="220.8" width="5.75" height="2.4" fill="#bade28"/><rect x="345.92" y="223.2" width="5.75" height="2.4" fill="#9cd93b"/><rect x="345.92" y="225.6" width="5.75" height="2.4" fill="#f7e620"/><rect x="351.65" y="117.6" width="5.75" height="2.4" fill="#f7e620"/><rect x="351.65" y="160.8" width="5.75" height="4.8" fill="#f7e620"/><rect x="351.65" y="192.0" width="5.75" height="7.2" fill="#f7e620"/><rect x="351.65" y="199.2" width="5.75" height="2.4" fill="#bade28"/><rect x="351.65" y="201.6" width="5.75" height="2.4" fill="#45bf6f"/><rect x="351.65" y="204.0" width="5.75" height="2.4" fill="#22a785"/><rect x="351.65" y="206.4" width="5.75" height="2.4" fill="#1f958b"/><rect x="351.65" y="208.8" width="5.75" height="2.4" fill="#22a785"/><rect x="351.65" y="211.2" width="5.75" height="2.4" fill="#1f958b"/><rect x="351.65" y="213.6" width="5.75" height="2.4" fill="#29798e"/><rect x="351.65" y="216.0" width="5.75" height="2.4" fill="#1f958b"/><rect x="351.65" y="218.4" width="5.75" height="2.4" fill="#22a785"/><rect x="351.65" y="220.8" width="5.75" height="2.4" fill="#9cd93b"/><rect x="351.65" y="223.2" width="5.75" height="2.4" fill="#bade28"/><rect x="351.65" y="225.6" width="5.75" height="2.4" fill="#e2e418"/><rect x="357.39" y="115.2" width="5.75" height="2.4" fill="#f7e620"/><rect x="357.39" y="160.8" width="5.75" height="4.8" fill="#f7e620"/><rect x="357.39" y="194.4" width="5.75" height="7.2" fill="#f7e620"/><rect x="357.39" y="201.6" width="5.75" height="2.4" fill="#bade28"/><rect x="357.39" y="204.0" width="5.75" height="2.4" fill="#45bf6f"/><rect x="357.39" y="206.4" width="5.75" height="2.4" fill="#22a785"/><rect x="357.39" y="208.8" width="5.75" height="2.4" fill="#1f958b"/><rect x="357.39" y="211.2" width="5.75" height="2.4" fill="#22a785"/><rect x="357.39" y="213.6" width="5.75" height="2.4" fill="#1f958b"/><rect x="357.39" y="216.0" width="5.75" height="2.4" fill="#29798e"/><rect x="357.39" y="218.4" width="5.75" height="2.4" fill="#1f958b"/><rect x="357.39" y="220.8" width="5.75" height="4.8" fill="#bade28"/><rect x="357.39" y="225.6" width="5.75" height="4.8" fill="#f7e620"/><rect x="363.12" y="115.2" width="5.75" height="2.4" fill="#f7e620"/><rect x="363.12" y="160.8" width="5.75" height="4.8" fill="#f7e620"/><rect x="363.12" y="194.4" width="5.75" height="9.6" fill="#f7e620"/><rect x="363.12" y="204.0" width="5.75" height="2.4" fill="#bade28"/><rect x="363.12" y="206.4" width="5.75" height="2.4" fill="#45bf6f"/><rect x="363.12" y="208.8" width="5.75" height="2.4" fill="#22a785"/><rect x="363.12" y="211.2" width="5.75" height="2.4" fill="#1f958b"/><rect x="363.12" y="213.6" width="5.75" height="2.4" fill="#22a785"/><rect x="363.12" y="216.0" width="5.75" height="2.4" fill="#1f958b"/><rect x="363.12" y="218.4" width="5.75" height="2.4" fill="#29798e"/><rect x="363.12" y="220.8" width="5.75" height="2.4" fill="#1f958b"/><rect x="363.12" y="223.2" width="5.75" height="2.4" fill="#9cd93b"/><rect x="363.12" y="225.6" width="5.75" height="2.4" fill="#e2e418"/><rect x="363.12" y="228.0" width="5.75" height="2.4" fill="#f7e620"/><rect x="368.85" y="115.2" width="5.75" height="2.4" fill="#f7e620"/><rect x="368.85" y="160.8" width="5.75" height="2.4" fill="#f7e620"/><rect x="368.85" y="165.6" width="5.75" height="2.4" fill="#f7e620"/><rect x="368.85" y="196.8" width="5.75" height="2.4" fill="#e2e418"/><rect x="368.85" y="199.2" width="5.75" height="4.8" fill="#f7e620"/><rect x="368.85" y="204.0" width="5.75" height="2.4" fill="#bade28"/><rect x="368.85" y="206.4" width="5.75" height="2.4" fill="#45bf6f"/><rect x="368.85" y="208.8" width="5.75" height="2.4" fill="#22a785"/><rect x="368.85" y="211.2" width="5.75" height="2.4" fill="#1f958b"/><rect x="368.85" y="213.6" width="5.75" height="2.4" fill="#22a785"/><rect x="368.85" y="216.0" width="5.75" height="2.4" fill="#1f958b"/><rect x="368.85" y="218.4" width="5.75" height="2.4" fill="#29798e"/><rect x="368.85" y="220.8" width="5.75" height="2.4" fill="#1f958b"/><rect x="368.85" y="223.2" width="5.75" height="2.4" fill="#bade28"/><rect x="368.85" y="225.6" width="5.75" height="4.8" fill="#f7e620"/><rect x="374.59" y="112.8" width="5.75" height="2.4" fill="#f7e620"/><rect x="374.59" y="160.8" width="5.75" height="2.4" fill="#f7e620"/><rect x="374.59" y="165.6" width="5.75" height="2.4" fill="#f7e620"/><rect x="374.59" y="196.8" width="5.75" height="2.4" fill="#f7e620"/><rect x="374.59" y="199.2" width="5.75" height="2.4" fill="#e2e418"/><rect x="374.59" y="201.6" width="5.75" height="2.4" fill="#f7e620"/><rect x="374.59" y="204.0" width="5.75" height="2.4" fill="#bade28"/><rect x="374.59" y="206.4" width="5.75" height="2.4" fill="#45bf6f"/><rect x="374.59" y="208.8" width="5.75" height="2.4" fill="#22a785"/><rect x="374.59" y="211.2" width="5.75" height="2.4" fill="#1f958b"/><rect x="374.59" y="213.6" width="5.75" height="2.4" fill="#22a785"/><rect x="374.59" y="216.0" width="5.75" height="2.4" fill="#1f958b"/><rect x="374.59" y="218.4" width="5.75" height="2.4" fill="#29798e"/><rect x="374.59" y="220.8" width="5.75" height="2.4" fill="#1f958b"/><rect x="374.59" y="223.2" width="5.75" height="2.4" fill="#bade28"/><rect x="374.59" y="225.6" width="5.75" height="2.4" fill="#e2e418"/><rect x="374.59" y="228.0" width="5.75" height="2.4" fill="#f7e620"/><rect x="380.32" y="112.8" width="5.75" height="2.4" fill="#f7e620"/><rect x="380.32" y="163.2" width="5.75" height="4.8" fill="#f7e620"/><rect x="380.32" y="196.8" width="5.75" height="2.4" fill="#e2e418"/><rect x="380.32" y="199.2" width="5.75" height="2.4" fill="#f7e620"/><rect x="380.32" y="201.6" width="5.75" height="2.4" fill="#e2e418"/><rect x="380.32" y="204.0" width="5.75" height="2.4" fill="#bade28"/><rect x="380.32" y="206.4" width="5.75" height="2.4" fill="#45bf6f"/><rect x="380.32" y="208.8" width="5.75" height="2.4" fill="#22a785"/><rect x="380.32" y="211.2" width="5.75" height="2.4" fill="#1f958b"/><rect x="380.32" y="213.6" width="5.75" height="2.4" fill="#22a785"/><rect x="380.32" y="216.0" width="5.75" height="2.4" fill="#1f958b"/><rect x="380.32" y="218.4" width="5.75" height="2.4" fill="#29798e"/><rect x="380.32" y="220.8" width="5.75" height="2.4" fill="#1f958b"/><rect x="380.32" y="223.2" width="5.75" height="2.4" fill="#9cd93b"/><rect x="380.32" y="225.6" width="5.75" height="4.8" fill="#f7e620"/><rect x="386.05" y="112.8" width="5.75" height="2.4" fill="#f7e620"/><rect x="386.05" y="165.6" width="5.75" height="4.8" fill="#f7e620"/><rect x="386.05" y="196.8" width="5.75" height="7.2" fill="#f7e620"/><rect x="386.05" y="204.0" width="5.75" height="2.4" fill="#bade28"/><rect x="386.05" y="206.4" width="5.75" height="2.4" fill="#45bf6f"/><rect x="386.05" y="208.8" width="5.75" height="2.4" fill="#22a785"/><rect x="386.05" y="211.2" width="5.75" height="2.4" fill="#1f958b"/><rect x="386.05" y="213.6" width="5.75" height="2.4" fill="#22a785"/><rect x="386.05" y="216.0" width="5.75" height="2.4" fill="#1f958b"/><rect x="386.05" y="218.4" width="5.75" height="2.4" fill="#29798e"/><rect x="386.05" y="220.8" width="5.75" height="2.4" fill="#1f958b"/><rect x="386.05" y="223.2" width="5.75" height="2.4" fill="#bade28"/><rect x="386.05" y="225.6" width="5.75" height="2.4" fill="#e2e418"/><rect x="386.05" y="228.0" width="5.75" height="2.4" fill="#f7e620"/><rect x="391.79" y="112.8" width="5.75" height="2.4" fill="#f7e620"/><rect x="391.79" y="170.4" width="5.75" height="2.4" fill="#f7e620"/><rect x="391.79" y="196.8" width="5.75" height="2.4" fill="#e2e418"/><rect x="391.79" y="199.2" width="5.75" height="4.8" fill="#f7e620"/><rect x="391.79" y="204.0" width="5.75" height="2.4" fill="#bade28"/><rect x="391.79" y="206.4" width="5.75" height="2.4" fill="#45bf6f"/><rect x="391.79" y="208.8" width="5.75" height="2.4" fill="#22a785"/><rect x="391.79" y="211.2" width="5.75" height="2.4" fill="#1f958b"/><rect x="391.79" y="213.6" width="5.75" height="2.4" fill="#22a785"/><rect x="391.79" y="216.0" width="5.75" height="2.4" fill="#1f958b"/><rect x="391.79" y="218.4" width="5.75" height="2.4" fill="#29798e"/><rect x="391.79" y="220.8" width="5.75" height="4.8" fill="#bade28"/><rect x="391.79" y="225.6" width="5.75" height="4.8" fill="#f7e620"/><rect x="397.52" y="112.8" width="5.75" height="2.4" fill="#f7e620"/><rect x="397.52" y="172.8" width="5.75" height="4.8" fill="#f7e620"/><rect x="397.52" y="199.2" width="5.75" height="4.8" fill="#f7e620"/><rect x="397.52" y="204.0" width="5.75" height="2.4" fill="#bade28"/><rect x="397.52" y="206.4" width="5.75" height="2.4" fill="#45bf6f"/><rect x="397.52" y="208.8" width="5.75" height="2.4" fill="#22a785"/><rect x="397.52" y="211.2" width="5.75" height="2.4" fill="#1f958b"/><rect x="397.52" y="213.6" width="5.75" height="2.4" fill="#22a785"/><rect x="397.52" y="216.0" width="5.75" height="2.4" fill="#1f958b"/><rect x="397.52" y="218.4" width="5.75" height="2.4" fill="#29798e"/><rect x="397.52" y="220.8" width="5.75" height="2.4" fill="#bade28"/><rect x="397.52" y="223.2" width="5.75" height="2.4" fill="#9cd93b"/><rect x="397.52" y="225.6" width="5.75" height="2.4" fill="#e2e418"/><rect x="397.52" y="228.0" width="5.75" height="2.4" fill="#f7e620"/><rect x="403.25" y="112.8" width="5.75" height="2.4" fill="#f7e620"/><rect x="403.25" y="177.6" width="5.75" height="4.8" fill="#f7e620"/><rect x="403.25" y="196.8" width="5.75" height="2.4" fill="#f7e620"/><rect x="403.25" y="199.2" width="5.75" height="2.4" fill="#e2e418"/><rect x="403.25" y="201.6" width="5.75" height="2.4" fill="#bade28"/><rect x="403.25" y="204.0" width="5.75" height="2.4" fill="#45bf6f"/><rect x="403.25" y="206.4" width="5.75" height="2.4" fill="#22a785"/><rect x="403.25" y="208.8" width="5.75" height="2.4" fill="#1f958b"/><rect x="403.25" y="211.2" width="5.75" height="2.4" fill="#22a785"/><rect x="403.25" y="213.6" width="5.75" height="2.4" fill="#1f958b"/><rect x="403.25" y="216.0" width="5.75" height="2.4" fill="#29798e"/><rect x="403.25" y="218.4" width="5.75" height="2.4" fill="#1f958b"/><rect x="403.25" y="220.8" width="5.75" height="2.4" fill="#9cd93b"/><rect x="403.25" y="223.2" width="5.75" height="2.4" fill="#bade28"/><rect x="403.25" y="225.6" width="5.75" height="4.8" fill="#f7e620"/><rect x="408.98" y="112.8" width="5.75" height="2.4" fill="#f7e620"/><rect x="408.98" y="180.0" width="5.75" height="4.8" fill="#f7e620"/><rect x="408.98" y="194.4" width="5.75" height="7.2" fill="#f7e620"/><rect x="408.98" y="201.6" width="5.75" height="2.4" fill="#bade28"/><rect x="408.98" y="204.0" width="5.75" height="2.4" fill="#45bf6f"/><rect x="408.98" y="206.4" width="5.75" height="2.4" fill="#22a785"/><rect x="408.98" y="208.8" width="5.75" height="2.4" fill="#1f958b"/><rect x="408.98" y="211.2" width="5.75" height="2.4" fill="#22a785"/><rect x="408.98" y="213.6" width="5.75" height="2.4" fill="#1f958b"/><rect x="408.98" y="216.0" width="5.75" height="2.4" fill="#29798e"/><rect x="408.98" y="218.4" width="5.75" height="2.4" fill="#1f958b"/><rect x="408.98" y="220.8" width="5.75" height="4.8" fill="#bade28"/><rect x="408.98" y="225.6" width="5.75" height="2.4" fill="#e2e418"/><rect x="408.98" y="228.0" width="5.75" height="2.4" fill="#f7e620"/><rect x="414.72" y="112.8" width="5.75" height="4.8" fill="#f7e620"/><rect x="414.72" y="182.4" width="5.75" height="2.4" fill="#f7e620"/><rect x="414.72" y="192.0" width="5.75" height="4.8" fill="#e2e418"/><rect x="414.72" y="196.8" width="5.75" height="7.2" fill="#f7e620"/><rect x="414.72" y="204.0" width="5.75" height="4.8" fill="#74d055"/><rect x="414.72" y="208.8" width="5.75" height="2.4" fill="#9cd93b"/><rect x="414.72" y="211.2" width="5.75" height="4.8" fill="#74d055"/><rect x="414.72" y="216.0" width="5.75" height="2.4" fill="#22a785"/><rect x="414.72" y="218.4" width="5.75" height="2.4" fill="#29798e"/><rect x="414.72" y="220.8" width="5.75" height="2.4" fill="#22a785"/><rect x="414.72" y="223.2" width="5.75" height="2.4" fill="#9cd93b"/><rect x="414.72" y="225.6" width="5.75" height="4.8" fill="#f7e620"/><rect x="420.45" y="115.2" width="5.75" height="2.4" fill="#f7e620"/><rect x="420.45" y="182.4" width="5.75" height="4.8" fill="#f7e620"/><rect x="420.45" y="189.6" width="5.75" height="2.4" fill="#f7e620"/><rect x="420.45" y="192.0" width="5.75" height="2.4" fill="#e2e418"/><rect x="420.45" y="194.4" width="5.75" height="4.8" fill="#bade28"/><rect x="420.45" y="199.2" width="5.75" height="2.4" fill="#9cd93b"/><rect x="420.45" y="201.6" width="5.75" height="2.4" fill="#bade28"/><rect x="420.45" y="204.0" width="5.75" height="2.4" fill="#74d055"/><rect x="420.45" y="206.4" width="5.75" height="2.4" fill="#9cd93b"/><rect x="420.45" y="208.8" width="5.75" height="4.8" fill="#74d055"/><rect x="420.45" y="213.6" width="5.75" height="2.4" fill="#45bf6f"/><rect x="420.45" y="216.0" width="5.75" height="2.4" fill="#1f958b"/><rect x="420.45" y="218.4" width="5.75" height="2.4" fill="#29798e"/><rect x="420.45" y="220.8" width="5.75" height="2.4" fill="#1f958b"/><rect x="420.45" y="223.2" width="5.75" height="2.4" fill="#74d055"/><rect x="420.45" y="225.6" width="5.75" height="2.4" fill="#e2e418"/><rect x="426.18" y="117.6" width="5.75" height="2.4" fill="#f7e620"/><rect x="426.18" y="187.2" width="5.75" height="4.8" fill="#f7e620"/><rect x="426.18" y="192.0" width="5.75" height="2.4" fill="#e2e418"/><rect x="426.18" y="194.4" width="5.75" height="2.4" fill="#9cd93b"/><rect x="426.18" y="196.8" width="5.75" height="2.4" fill="#bade28"/><rect x="426.18" y="199.2" width="5.75" height="2.4" fill="#9cd93b"/><rect x="426.18" y="201.6" width="5.75" height="2.4" fill="#bade28"/><rect x="426.18" y="204.0" width="5.75" height="2.4" fill="#9cd93b"/><rect x="426.18" y="206.4" width="5.75" height="4.8" fill="#74d055"/><rect x="426.18" y="211.2" width="5.75" height="2.4" fill="#45bf6f"/><rect x="426.18" y="213.6" width="5.75" height="2.4" fill="#74d055"/><rect x="426.18" y="216.0" width="5.75" height="2.4" fill="#22a785"/><rect x="426.18" y="218.4" width="5.75" height="2.4" fill="#1f958b"/><rect x="426.18" y="220.8" width="5.75" height="2.4" fill="#22a785"/><rect x="426.18" y="223.2" width="5.75" height="2.4" fill="#74d055"/><rect x="426.18" y="225.6" width="5.75" height="2.4" fill="#f7e620"/><rect x="426.18" y="230.4" width="5.75" height="2.4" fill="#f7e620"/><rect x="431.92" y="117.6" width="5.75" height="2.4" fill="#f7e620"/><rect x="431.92" y="189.6" width="5.75" height="2.4" fill="#f7e620"/><rect x="431.92" y="192.0" width="5.75" height="2.4" fill="#e2e418"/><rect x="431.92" y="194.4" width="5.75" height="7.2" fill="#bade28"/><rect x="431.92" y="201.6" width="5.75" height="2.4" fill="#9cd93b"/><rect x="431.92" y="204.0" width="5.75" height="4.8" fill="#74d055"/><rect x="431.92" y="208.8" width="5.75" height="2.4" fill="#9cd93b"/><rect x="431.92" y="211.2" width="5.75" height="4.8" fill="#74d055"/><rect x="431.92" y="216.0" width="5.75" height="2.4" fill="#1f958b"/><rect x="431.92" y="218.4" width="5.75" height="2.4" fill="#29798e"/><rect x="431.92" y="220.8" width="5.75" height="2.4" fill="#1f958b"/><rect x="431.92" y="223.2" width="5.75" height="2.4" fill="#45bf6f"/><rect x="431.92" y="225.6" width="5.75" height="2.4" fill="#e2e418"/><rect x="437.65" y="120.0" width="5.75" height="2.4" fill="#f7e620"/><rect x="437.65" y="182.4" width="5.75" height="2.4" fill="#f7e620"/><rect x="437.65" y="189.6" width="5.75" height="2.4" fill="#f7e620"/><rect x="437.65" y="192.0" width="5.75" height="2.4" fill="#e2e418"/><rect x="437.65" y="194.4" width="5.75" height="2.4" fill="#bade28"/><rect x="437.65" y="196.8" width="5.75" height="4.8" fill="#9cd93b"/><rect x="437.65" y="201.6" width="5.75" height="4.8" fill="#74d055"/><rect x="437.65" y="206.4" width="5.75" height="2.4" fill="#9cd93b"/><rect x="437.65" y="208.8" width="5.75" height="4.8" fill="#74d055"/><rect x="437.65" y="213.6" width="5.75" height="2.4" fill="#45bf6f"/><rect x="437.65" y="216.0" width="5.75" height="2.4" fill="#22a785"/><rect x="437.65" y="218.4" width="5.75" height="2.4" fill="#29798e"/><rect x="437.65" y="220.8" width="5.75" height="2.4" fill="#22a785"/><rect x="437.65" y="223.2" width="5.75" height="2.4" fill="#74d055"/><rect x="437.65" y="225.6" width="5.75" height="2.4" fill="#f7e620"/><rect x="443.38" y="122.4" width="5.75" height="2.4" fill="#f7e620"/><rect x="443.38" y="182.4" width="5.75" height="2.4" fill="#f7e620"/><rect x="443.38" y="189.6" width="5.75" height="2.4" fill="#f7e620"/><rect x="443.38" y="192.0" width="5.75" height="2.4" fill="#e2e418"/><rect x="443.38" y="194.4" width="5.75" height="7.2" fill="#bade28"/><rect x="443.38" y="201.6" width="5.75" height="2.4" fill="#74d055"/><rect x="443.38" y="204.0" width="5.75" height="2.4" fill="#9cd93b"/><rect x="443.38" y="206.4" width="5.75" height="4.8" fill="#74d055"/><rect x="443.38" y="211.2" width="5.75" height="2.4" fill="#45bf6f"/><rect x="443.38" y="213.6" width="5.75" height="2.4" fill="#74d055"/><rect x="443.38" y="216.0" width="5.75" height="7.2" fill="#1f958b"/><rect x="443.38" y="223.2" width="5.75" height="2.4" fill="#74d055"/><rect x="443.38" y="225.6" width="5.75" height="2.4" fill="#e2e418"/><rect x="449.12" y="122.4" width="5.75" height="2.4" fill="#f7e620"/><rect x="449.12" y="182.4" width="5.75" height="2.4" fill="#f7e620"/><rect x="449.12" y="189.6" width="5.75" height="2.4" fill="#f7e620"/><rect x="449.12" y="192.0" width="5.75" height="2.4" fill="#e2e418"/><rect x="449.12" y="194.4" width="5.75" height="7.2" fill="#bade28"/><rect x="449.12" y="201.6" width="5.75" height="2.4" fill="#9cd93b"/><rect x="449.12" y="204.0" width="5.75" height="4.8" fill="#74d055"/><rect x="449.12" y="208.8" width="5.75" height="2.4" fill="#9cd93b"/><rect x="449.12" y="211.2" width="5.75" height="4.8" fill="#74d055"/><rect x="449.12" y="216.0" width="5.75" height="2.4" fill="#22a785"/><rect x="449.12" y="218.4" width="5.75" height="2.4" fill="#29798e"/><rect x="449.12" y="220.8" width="5.75" height="2.4" fill="#22a785"/><rect x="449.12" y="223.2" width="5.75" height="2.4" fill="#45bf6f"/><rect x="449.12" y="225.6" width="5.75" height="2.4" fill="#f7e620"/><rect x="454.85" y="124.8" width="5.75" height="2.4" fill="#f7e620"/><rect x="454.85" y="180.0" width="5.75" height="2.4" fill="#f7e620"/><rect x="454.85" y="189.6" width="5.75" height="2.4" fill="#f7e620"/><rect x="454.85" y="192.0" width="5.75" height="2.4" fill="#e2e418"/><rect x="454.85" y="194.4" width="5.75" height="2.4" fill="#bade28"/><rect x="454.85" y="196.8" width="5.75" height="2.4" fill="#9cd93b"/><rect x="454.85" y="199.2" width="5.75" height="2.4" fill="#bade28"/><rect x="454.85" y="201.6" width="5.75" height="4.8" fill="#74d055"/><rect x="454.85" y="206.4" width="5.75" height="2.4" fill="#9cd93b"/><rect x="454.85" y="208.8" width="5.75" height="4.8" fill="#74d055"/><rect x="454.85" y="213.6" width="5.75" height="2.4" fill="#22a785"/><rect x="454.85" y="216.0" width="5.75" height="2.4" fill="#29798e"/><rect x="454.85" y="218.4" width="5.75" height="2.4" fill="#22a785"/><rect x="454.85" y="220.8" width="5.75" height="2.4" fill="#45bf6f"/><rect x="454.85" y="223.2" width="5.75" height="2.4" fill="#74d055"/><rect x="454.85" y="225.6" width="5.75" height="2.4" fill="#e2e418"/><rect x="460.58" y="127.2" width="5.75" height="4.8" fill="#f7e620"/><rect x="460.58" y="177.6" width="5.75" height="2.4" fill="#f7e620"/><rect x="460.58" y="187.2" width="5.75" height="4.8" fill="#f7e620"/><rect x="460.58" y="192.0" width="5.75" height="2.4" fill="#e2e418"/><rect x="460.58" y="194.4" width="5.75" height="7.2" fill="#bade28"/><rect x="460.58" y="201.6" width="5.75" height="2.4" fill="#74d055"/><rect x="460.58" y="204.0" width="5.75" height="2.4" fill="#9cd93b"/><rect x="460.58" y="206.4" width="5.75" height="4.8" fill="#74d055"/><rect x="460.58" y="211.2" width="5.75" height="2.4" fill="#45bf6f"/><rect x="460.58" y="213.6" width="5.75" height="2.4" fill="#1f958b"/><rect x="460.58" y="216.0" width="5.75" height="2.4" fill="#29798e"/><rect x="460.58" y="218.4" width="5.75" height="2.4" fill="#1f958b"/><rect x="460.58" y="220.8" width="5.75" height="4.8" fill="#74d055"/><rect x="460.58" y="225.6" width="5.75" height="2.4" fill="#f7e620"/><rect x="466.31" y="129.6" width="5.75" height="2.4" fill="#f7e620"/><rect x="466.31" y="134.4" width="5.75" height="2.4" fill="#f7e620"/><rect x="466.31" y="177.6" width="5.75" height="2.4" fill="#f7e620"/><rect x="466.31" y="184.8" width="5.75" height="7.2" fill="#f7e620"/><rect x="466.31" y="192.0" width="5.75" height="2.4" fill="#e2e418"/><rect x="466.31" y="194.4" width="5.75" height="7.2" fill="#bade28"/><rect x="466.31" y="201.6" width="5.75" height="2.4" fill="#9cd93b"/><rect x="466.31" y="204.0" width="5.75" height="4.8" fill="#74d055"/><rect x="466.31" y="208.8" width="5.75" height="2.4" fill="#45bf6f"/><rect x="466.31" y="211.2" width="5.75" height="2.4" fill="#74d055"/><rect x="466.31" y="213.6" width="5.75" height="2.4" fill="#22a785"/><rect x="466.31" y="216.0" width="5.75" height="2.4" fill="#1f958b"/><rect x="466.31" y="218.4" width="5.75" height="2.4" fill="#22a785"/><rect x="466.31" y="220.8" width="5.75" height="2.4" fill="#74d055"/><rect x="466.31" y="223.2" width="5.75" height="2.4" fill="#45bf6f"/><rect x="466.31" y="225.6" width="5.75" height="2.4" fill="#e2e418"/><rect x="472.05" y="136.8" width="5.75" height="4.8" fill="#f7e620"/><rect x="472.05" y="175.2" width="5.75" height="2.4" fill="#f7e620"/><rect x="472.05" y="184.8" width="5.75" height="2.4" fill="#f7e620"/><rect x="472.05" y="189.6" width="5.75" height="2.4" fill="#f7e620"/><rect x="472.05" y="192.0" width="5.75" height="2.4" fill="#e2e418"/><rect x="472.05" y="194.4" width="5.75" height="7.2" fill="#9cd93b"/><rect x="472.05" y="201.6" width="5.75" height="4.8" fill="#74d055"/><rect x="472.05" y="206.4" width="5.75" height="2.4" fill="#9cd93b"/><rect x="472.05" y="208.8" width="5.75" height="2.4" fill="#74d055"/><rect x="472.05" y="211.2" width="5.75" height="2.4" fill="#22a785"/><rect x="472.05" y="213.6" width="5.75" height="2.4" fill="#1f958b"/><rect x="472.05" y="216.0" width="5.75" height="2.4" fill="#22a785"/><rect x="472.05" y="218.4" width="5.75" height="2.4" fill="#74d055"/><rect x="472.05" y="220.8" width="5.75" height="2.4" fill="#45bf6f"/><rect x="472.05" y="223.2" width="5.75" height="2.4" fill="#74d055"/><rect x="472.05" y="225.6" width="5.75" height="2.4" fill="#f7e620"/><rect x="477.78" y="139.2" width="5.75" height="4.8" fill="#f7e620"/><rect x="477.78" y="175.2" width="5.75" height="2.4" fill="#f7e620"/><rect x="477.78" y="184.8" width="5.75" height="2.4" fill="#f7e620"/><rect x="477.78" y="189.6" width="5.75" height="2.4" fill="#f7e620"/><rect x="477.78" y="192.0" width="5.75" height="2.4" fill="#e2e418"/><rect x="477.78" y="194.4" width="5.75" height="7.2" fill="#bade28"/><rect x="477.78" y="201.6" width="5.75" height="2.4" fill="#74d055"/><rect x="477.78" y="204.0" width="5.75" height="2.4" fill="#9cd93b"/><rect x="477.78" y="206.4" width="5.75" height="2.4" fill="#74d055"/><rect x="477.78" y="208.8" width="5.75" height="2.4" fill="#22a785"/><rect x="477.78" y="211.2" width="5.75" height="2.4" fill="#1f958b"/><rect x="477.78" y="213.6" width="5.75" height="2.4" fill="#22a785"/><rect x="477.78" y="216.0" width="5.75" height="2.4" fill="#74d055"/><rect x="477.78" y="218.4" width="5.75" height="2.4" fill="#45bf6f"/><rect x="477.78" y="220.8" width="5.75" height="4.8" fill="#74d055"/><rect x="477.78" y="225.6" width="5.75" height="2.4" fill="#e2e418"/><rect x="483.51" y="144.0" width="5.75" height="4.8" fill="#f7e620"/><rect x="483.51" y="175.2" width="5.75" height="2.4" fill="#f7e620"/><rect x="483.51" y="184.8" width="5.75" height="2.4" fill="#f7e620"/><rect x="483.51" y="189.6" width="5.75" height="2.4" fill="#f7e620"/><rect x="483.51" y="192.0" width="5.75" height="2.4" fill="#e2e418"/><rect x="483.51" y="194.4" width="5.75" height="2.4" fill="#bade28"/><rect x="483.51" y="196.8" width="5.75" height="2.4" fill="#9cd93b"/><rect x="483.51" y="199.2" width="5.75" height="2.4" fill="#bade28"/><rect x="483.51" y="201.6" width="5.75" height="2.4" fill="#9cd93b"/><rect x="483.51" y="204.0" width="5.75" height="4.8" fill="#74d055"/><rect x="483.51" y="208.8" width="5.75" height="2.4" fill="#1f958b"/><rect x="483.51" y="211.2" width="5.75" height="2.4" fill="#29798e"/><rect x="483.51" y="213.6" width="5.75" height="2.4" fill="#1f958b"/><rect x="483.51" y="216.0" width="5.75" height="2.4" fill="#45bf6f"/><rect x="483.51" y="218.4" width="5.75" height="4.8" fill="#74d055"/><rect x="483.51" y="223.2" width="5.75" height="2.4" fill="#9cd93b"/><rect x="483.51" y="225.6" width="5.75" height="2.4" fill="#f7e620"/><rect x="489.25" y="148.8" width="5.75" height="2.4" fill="#f7e620"/><rect x="489.25" y="175.2" width="5.75" height="2.4" fill="#f7e620"/><rect x="489.25" y="184.8" width="5.75" height="2.4" fill="#f7e620"/><rect x="489.25" y="189.6" width="5.75" height="2.4" fill="#f7e620"/><rect x="489.25" y="192.0" width="5.75" height="2.4" fill="#e2e418"/><rect x="489.25" y="194.4" width="5.75" height="4.8" fill="#bade28"/><rect x="489.25" y="199.2" width="5.75" height="2.4" fill="#9cd93b"/><rect x="489.25" y="201.6" width="5.75" height="4.8" fill="#74d055"/><rect x="489.25" y="206.4" width="5.75" height="2.4" fill="#45bf6f"/><rect x="489.25" y="208.8" width="5.75" height="2.4" fill="#22a785"/><rect x="489.25" y="211.2" width="5.75" height="2.4" fill="#29798e"/><rect x="489.25" y="213.6" width="5.75" height="2.4" fill="#22a785"/><rect x="489.25" y="216.0" width="5.75" height="4.8" fill="#74d055"/><rect x="489.25" y="220.8" width="5.75" height="2.4" fill="#45bf6f"/><rect x="489.25" y="223.2" width="5.75" height="2.4" fill="#bade28"/><rect x="489.25" y="225.6" width="5.75" height="2.4" fill="#e2e418"/><rect x="494.98" y="153.6" width="5.75" height="2.4" fill="#f7e620"/><rect x="494.98" y="175.2" width="5.75" height="2.4" fill="#f7e620"/><rect x="494.98" y="184.8" width="5.75" height="2.4" fill="#f7e620"/><rect x="494.98" y="189.6" width="5.75" height="2.4" fill="#f7e620"/><rect x="494.98" y="192.0" width="5.75" height="2.4" fill="#e2e418"/><rect x="494.98" y="194.4" width="5.75" height="2.4" fill="#9cd93b"/><rect x="494.98" y="196.8" width="5.75" height="4.8" fill="#bade28"/><rect x="494.98" y="201.6" width="5.75" height="2.4" fill="#74d055"/><rect x="494.98" y="204.0" width="5.75" height="2.4" fill="#9cd93b"/><rect x="494.98" y="206.4" width="5.75" height="2.4" fill="#74d055"/><rect x="494.98" y="208.8" width="5.75" height="7.2" fill="#1f958b"/><rect x="494.98" y="216.0" width="5.75" height="2.4" fill="#74d055"/><rect x="494.98" y="218.4" width="5.75" height="2.4" fill="#45bf6f"/><rect x="494.98" y="220.8" width="5.75" height="2.4" fill="#74d055"/><rect x="494.98" y="223.2" width="5.75" height="2.4" fill="#e2e418"/><rect x="500.71" y="156.0" width="5.75" height="4.8" fill="#f7e620"/><rect x="500.71" y="175.2" width="5.75" height="2.4" fill="#f7e620"/><rect x="500.71" y="184.8" width="5.75" height="2.4" fill="#f7e620"/><rect x="500.71" y="189.6" width="5.75" height="2.4" fill="#f7e620"/><rect x="500.71" y="192.0" width="5.75" height="2.4" fill="#e2e418"/><rect x="500.71" y="194.4" width="5.75" height="7.2" fill="#bade28"/><rect x="500.71" y="201.6" width="5.75" height="2.4" fill="#9cd93b"/><rect x="500.71" y="204.0" width="5.75" height="4.8" fill="#74d055"/><rect x="500.71" y="208.8" width="5.75" height="2.4" fill="#22a785"/><rect x="500.71" y="211.2" width="5.75" height="2.4" fill="#29798e"/><rect x="500.71" y="213.6" width="5.75" height="2.4" fill="#22a785"/><rect x="500.71" y="216.0" width="5.75" height="2.4" fill="#45bf6f"/><rect x="500.71" y="218.4" width="5.75" height="4.8" fill="#74d055"/><rect x="500.71" y="223.2" width="5.75" height="2.4" fill="#f7e620"/><rect x="506.45" y="158.4" width="5.75" height="4.8" fill="#f7e620"/><rect x="506.45" y="175.2" width="5.75" height="2.4" fill="#f7e620"/><rect x="506.45" y="184.8" width="5.75" height="2.4" fill="#f7e620"/><rect x="506.45" y="192.0" width="5.75" height="2.4" fill="#f7e620"/><rect x="506.45" y="194.4" width="5.75" height="2.4" fill="#e2e418"/><rect x="506.45" y="196.8" width="5.75" height="2.4" fill="#9cd93b"/><rect x="506.45" y="199.2" width="5.75" height="2.4" fill="#bade28"/><rect x="506.45" y="201.6" width="5.75" height="4.8" fill="#74d055"/><rect x="506.45" y="206.4" width="5.75" height="2.4" fill="#45bf6f"/><rect x="506.45" y="208.8" width="5.75" height="2.4" fill="#1f958b"/><rect x="506.45" y="211.2" width="5.75" height="2.4" fill="#29798e"/><rect x="506.45" y="213.6" width="5.75" height="2.4" fill="#1f958b"/><rect x="506.45" y="216.0" width="5.75" height="4.8" fill="#74d055"/><rect x="506.45" y="220.8" width="5.75" height="2.4" fill="#45bf6f"/><rect x="506.45" y="223.2" width="5.75" height="2.4" fill="#e2e418"/><rect x="512.18" y="163.2" width="5.75" height="4.8" fill="#f7e620"/><rect x="512.18" y="175.2" width="5.75" height="2.4" fill="#f7e620"/><rect x="512.18" y="184.8" width="5.75" height="2.4" fill="#f7e620"/><rect x="512.18" y="194.4" width="5.75" height="2.4" fill="#f7e620"/><rect x="512.18" y="196.8" width="5.75" height="2.4" fill="#e2e418"/><rect x="512.18" y="199.2" width="5.75" height="2.4" fill="#bade28"/><rect x="512.18" y="201.6" width="5.75" height="2.4" fill="#74d055"/><rect x="512.18" y="204.0" width="5.75" height="2.4" fill="#45bf6f"/><rect x="512.18" y="206.4" width="5.75" height="2.4" fill="#74d055"/><rect x="512.18" y="208.8" width="5.75" height="2.4" fill="#22a785"/><rect x="512.18" y="211.2" width="5.75" height="2.4" fill="#1f958b"/><rect x="512.18" y="213.6" width="5.75" height="2.4" fill="#22a785"/><rect x="512.18" y="216.0" width="5.75" height="2.4" fill="#74d055"/><rect x="512.18" y="218.4" width="5.75" height="2.4" fill="#45bf6f"/><rect x="512.18" y="220.8" width="5.75" height="2.4" fill="#74d055"/><rect x="517.91" y="165.6" width="5.75" height="4.8" fill="#f7e620"/><rect x="517.91" y="175.2" width="5.75" height="2.4" fill="#f7e620"/><rect x="517.91" y="184.8" width="5.75" height="2.4" fill="#f7e620"/><rect x="517.91" y="196.8" width="5.75" height="4.8" fill="#bade28"/><rect x="517.91" y="201.6" width="5.75" height="2.4" fill="#74d055"/><rect x="517.91" y="204.0" width="5.75" height="4.8" fill="#bade28"/><rect x="517.91" y="208.8" width="5.75" height="2.4" fill="#74d055"/><rect x="517.91" y="211.2" width="5.75" height="2.4" fill="#45bf6f"/><rect x="517.91" y="213.6" width="5.75" height="2.4" fill="#29798e"/><rect x="517.91" y="216.0" width="5.75" height="2.4" fill="#440154"/><rect x="517.91" y="218.4" width="5.75" height="2.4" fill="#46297a"/><rect x="517.91" y="220.8" width="5.75" height="2.4" fill="#74d055"/><rect x="517.91" y="223.2" width="5.75" height="4.8" fill="#f7e620"/><rect x="523.64" y="172.8" width="5.75" height="2.4" fill="#f7e620"/><rect x="523.64" y="182.4" width="5.75" height="4.8" fill="#f7e620"/><rect x="523.64" y="194.4" width="5.75" height="2.4" fill="#f7e620"/><rect x="523.64" y="199.2" width="5.75" height="4.8" fill="#bade28"/><rect x="523.64" y="204.0" width="5.75" height="2.4" fill="#74d055"/><rect x="523.64" y="206.4" width="5.75" height="4.8" fill="#bade28"/><rect x="523.64" y="211.2" width="5.75" height="2.4" fill="#45bf6f"/><rect x="523.64" y="213.6" width="5.75" height="2.4" fill="#29798e"/><rect x="523.64" y="216.0" width="5.75" height="2.4" fill="#440154"/><rect x="523.64" y="218.4" width="5.75" height="2.4" fill="#46297a"/><rect x="523.64" y="220.8" width="5.75" height="2.4" fill="#bade28"/><rect x="523.64" y="223.2" width="5.75" height="2.4" fill="#f7e620"/><rect x="529.38" y="175.2" width="5.75" height="2.4" fill="#f7e620"/><rect x="529.38" y="184.8" width="5.75" height="2.4" fill="#f7e620"/><rect x="529.38" y="189.6" width="5.75" height="2.4" fill="#f7e620"/><rect x="529.38" y="194.4" width="5.75" height="2.4" fill="#f7e620"/><rect x="529.38" y="201.6" width="5.75" height="4.8" fill="#bade28"/><rect x="529.38" y="206.4" width="5.75" height="2.4" fill="#74d055"/><rect x="529.38" y="208.8" width="5.75" height="2.4" fill="#bade28"/><rect x="529.38" y="211.2" width="5.75" height="2.4" fill="#45bf6f"/><rect x="529.38" y="213.6" width="5.75" height="2.4" fill="#1f958b"/><rect x="529.38" y="216.0" width="5.75" height="4.8" fill="#440154"/><rect x="529.38" y="220.8" width="5.75" height="2.4" fill="#74d055"/><rect x="529.38" y="223.2" width="5.75" height="2.4" fill="#f7e620"/><rect x="535.11" y="177.6" width="5.75" height="2.4" fill="#f7e620"/><rect x="535.11" y="184.8" width="5.75" height="2.4" fill="#f7e620"/><rect x="535.11" y="189.6" width="5.75" height="2.4" fill="#f7e620"/><rect x="535.11" y="201.6" width="5.75" height="2.4" fill="#f7e620"/><rect x="535.11" y="204.0" width="5.75" height="4.8" fill="#bade28"/><rect x="535.11" y="208.8" width="5.75" height="2.4" fill="#74d055"/><rect x="535.11" y="211.2" width="5.75" height="2.4" fill="#bade28"/><rect x="535.11" y="213.6" width="5.75" height="2.4" fill="#29798e"/><rect x="535.11" y="216.0" width="5.75" height="4.8" fill="#440154"/><rect x="535.11" y="220.8" width="5.75" height="2.4" fill="#bade28"/><rect x="535.11" y="223.2" width="5.75" height="2.4" fill="#f7e620"/><rect x="540.84" y="180.0" width="5.75" height="2.4" fill="#f7e620"/><rect x="540.84" y="189.6" width="5.75" height="2.4" fill="#f7e620"/><rect x="540.84" y="194.4" width="5.75" height="2.4" fill="#f7e620"/><rect x="540.84" y="201.6" width="5.75" height="4.8" fill="#f7e620"/><rect x="540.84" y="206.4" width="5.75" height="4.8" fill="#bade28"/><rect x="540.84" y="211.2" width="5.75" height="2.4" fill="#74d055"/><rect x="540.84" y="213.6" width="5.75" height="2.4" fill="#29798e"/><rect x="540.84" y="216.0" width="5.75" height="4.8" fill="#440154"/><rect x="540.84" y="220.8" width="5.75" height="2.4" fill="#74d055"/><rect x="540.84" y="223.2" width="5.75" height="4.8" fill="#f7e620"/><rect x="546.58" y="182.4" width="5.75" height="4.8" fill="#f7e620"/><rect x="546.58" y="189.6" width="5.75" height="7.2" fill="#f7e620"/><rect x="546.58" y="201.6" width="5.75" height="2.4" fill="#f7e620"/><rect x="546.58" y="208.8" width="5.75" height="2.4" fill="#f7e620"/><rect x="546.58" y="211.2" width="5.75" height="2.4" fill="#bade28"/><rect x="546.58" y="213.6" width="5.75" height="2.4" fill="#1f958b"/><rect x="546.58" y="216.0" width="5.75" height="4.8" fill="#440154"/><rect x="546.58" y="220.8" width="5.75" height="2.4" fill="#bade28"/><rect x="546.58" y="223.2" width="5.75" height="2.4" fill="#f7e620"/><rect x="552.31" y="180.0" width="5.75" height="2.4" fill="#f7e620"/><rect x="552.31" y="184.8" width="5.75" height="2.4" fill="#f7e620"/><rect x="552.31" y="189.6" width="5.75" height="12.0" fill="#f7e620"/><rect x="552.31" y="208.8" width="5.75" height="2.4" fill="#f7e620"/><rect x="552.31" y="211.2" width="5.75" height="2.4" fill="#bade28"/><rect x="552.31" y="213.6" width="5.75" height="2.4" fill="#29798e"/><rect x="552.31" y="216.0" width="5.75" height="4.8" fill="#440154"/><rect x="552.31" y="220.8" width="5.75" height="2.4" fill="#74d055"/><rect x="552.31" y="223.2" width="5.75" height="2.4" fill="#f7e620"/><rect x="558.04" y="180.0" width="5.75" height="2.4" fill="#f7e620"/><rect x="558.04" y="184.8" width="5.75" height="4.8" fill="#f7e620"/><rect x="558.04" y="194.4" width="5.75" height="2.4" fill="#f7e620"/><rect x="558.04" y="199.2" width="5.75" height="2.4" fill="#f7e620"/><rect x="558.04" y="208.8" width="5.75" height="2.4" fill="#f7e620"/><rect x="558.04" y="211.2" width="5.75" height="2.4" fill="#74d055"/><rect x="558.04" y="213.6" width="5.75" height="2.4" fill="#29798e"/><rect x="558.04" y="216.0" width="5.75" height="4.8" fill="#440154"/><rect x="558.04" y="220.8" width="5.75" height="2.4" fill="#bade28"/><rect x="558.04" y="223.2" width="5.75" height="2.4" fill="#f7e620"/><rect x="563.78" y="177.6" width="5.75" height="2.4" fill="#f7e620"/><rect x="563.78" y="184.8" width="5.75" height="19.2" fill="#f7e620"/><rect x="563.78" y="208.8" width="5.75" height="2.4" fill="#f7e620"/><rect x="563.78" y="211.2" width="5.75" height="2.4" fill="#bade28"/><rect x="563.78" y="213.6" width="5.75" height="2.4" fill="#1f958b"/><rect x="563.78" y="216.0" width="5.75" height="4.8" fill="#440154"/><rect x="563.78" y="220.8" width="5.75" height="2.4" fill="#74d055"/><rect x="563.78" y="223.2" width="5.75" height="4.8" fill="#f7e620"/><rect x="569.51" y="172.8" width="5.75" height="2.4" fill="#f7e620"/><rect x="569.51" y="177.6" width="5.75" height="4.8" fill="#f7e620"/><rect x="569.51" y="184.8" width="5.75" height="9.6" fill="#f7e620"/><rect x="569.51" y="201.6" width="5.75" height="2.4" fill="#f7e620"/><rect x="569.51" y="206.4" width="5.75" height="2.4" fill="#f7e620"/><rect x="569.51" y="208.8" width="5.75" height="2.4" fill="#74d055"/><rect x="569.51" y="211.2" width="5.75" height="2.4" fill="#29798e"/><rect x="569.51" y="213.6" width="5.75" height="4.8" fill="#440154"/><rect x="569.51" y="218.4" width="5.75" height="2.4" fill="#bade28"/><rect x="569.51" y="220.8" width="5.75" height="2.4" fill="#f7e620"/><rect x="575.24" y="172.8" width="5.75" height="4.8" fill="#f7e620"/><rect x="575.24" y="180.0" width="5.75" height="7.2" fill="#f7e620"/><rect x="575.24" y="189.6" width="5.75" height="7.2" fill="#f7e620"/><rect x="575.24" y="206.4" width="5.75" height="2.4" fill="#f7e620"/><rect x="575.24" y="208.8" width="5.75" height="2.4" fill="#bade28"/><rect x="575.24" y="211.2" width="5.75" height="2.4" fill="#29798e"/><rect x="575.24" y="213.6" width="5.75" height="4.8" fill="#440154"/><rect x="575.24" y="218.4" width="5.75" height="2.4" fill="#74d055"/><rect x="575.24" y="220.8" width="5.75" height="2.4" fill="#f7e620"/><rect x="580.97" y="165.6" width="5.75" height="2.4" fill="#f7e620"/><rect x="580.97" y="170.4" width="5.75" height="4.8" fill="#f7e620"/><rect x="580.97" y="180.0" width="5.75" height="7.2" fill="#f7e620"/><rect x="580.97" y="189.6" width="5.75" height="2.4" fill="#f7e620"/><rect x="580.97" y="194.4" width="5.75" height="2.4" fill="#f7e620"/><rect x="580.97" y="206.4" width="5.75" height="2.4" fill="#f7e620"/><rect x="580.97" y="208.8" width="5.75" height="2.4" fill="#74d055"/><rect x="580.97" y="211.2" width="5.75" height="2.4" fill="#1f958b"/><rect x="580.97" y="213.6" width="5.75" height="4.8" fill="#440154"/><rect x="580.97" y="218.4" width="5.75" height="2.4" fill="#bade28"/><rect x="580.97" y="220.8" width="5.75" height="2.4" fill="#f7e620"/><rect x="586.71" y="163.2" width="5.75" height="2.4" fill="#f7e620"/><rect x="586.71" y="170.4" width="5.75" height="2.4" fill="#f7e620"/><rect x="586.71" y="182.4" width="5.75" height="7.2" fill="#f7e620"/><rect x="586.71" y="194.4" width="5.75" height="4.8" fill="#f7e620"/><rect x="586.71" y="206.4" width="5.75" height="2.4" fill="#f7e620"/><rect x="586.71" y="208.8" width="5.75" height="2.4" fill="#bade28"/><rect x="586.71" y="211.2" width="5.75" height="2.4" fill="#29798e"/><rect x="586.71" y="213.6" width="5.75" height="4.8" fill="#440154"/><rect x="586.71" y="218.4" width="5.75" height="2.4" fill="#74d055"/><rect x="586.71" y="220.8" width="5.75" height="4.8" fill="#f7e620"/><rect x="592.44" y="158.4" width="5.75" height="4.8" fill="#f7e620"/><rect x="592.44" y="180.0" width="5.75" height="2.4" fill="#f7e620"/><rect x="592.44" y="187.2" width="5.75" height="2.4" fill="#f7e620"/><rect x="592.44" y="194.4" width="5.75" height="9.6" fill="#f7e620"/><rect x="592.44" y="204.0" width="5.75" height="2.4" fill="#74d055"/><rect x="592.44" y="206.4" width="5.75" height="2.4" fill="#29798e"/><rect x="592.44" y="208.8" width="5.75" height="4.8" fill="#440154"/><rect x="592.44" y="213.6" width="5.75" height="2.4" fill="#bade28"/><rect x="592.44" y="216.0" width="5.75" height="2.4" fill="#f7e620"/><rect x="598.17" y="153.6" width="5.75" height="2.4" fill="#f7e620"/><rect x="598.17" y="180.0" width="5.75" height="2.4" fill="#f7e620"/><rect x="598.17" y="184.8" width="5.75" height="4.8" fill="#f7e620"/><rect x="598.17" y="194.4" width="5.75" height="9.6" fill="#f7e620"/><rect x="598.17" y="204.0" width="5.75" height="2.4" fill="#bade28"/><rect x="598.17" y="206.4" width="5.75" height="2.4" fill="#1f958b"/><rect x="598.17" y="208.8" width="5.75" height="4.8" fill="#440154"/><rect x="598.17" y="213.6" width="5.75" height="2.4" fill="#74d055"/><rect x="598.17" y="216.0" width="5.75" height="2.4" fill="#f7e620"/><rect x="603.91" y="151.2" width="5.75" height="2.4" fill="#f7e620"/><rect x="603.91" y="180.0" width="5.75" height="2.4" fill="#f7e620"/><rect x="603.91" y="184.8" width="5.75" height="2.4" fill="#f7e620"/><rect x="603.91" y="189.6" width="5.75" height="2.4" fill="#f7e620"/><rect x="603.91" y="196.8" width="5.75" height="2.4" fill="#f7e620"/><rect x="603.91" y="201.6" width="5.75" height="2.4" fill="#f7e620"/><rect x="603.91" y="204.0" width="5.75" height="2.4" fill="#74d055"/><rect x="603.91" y="206.4" width="5.75" height="2.4" fill="#29798e"/><rect x="603.91" y="208.8" width="5.75" height="4.8" fill="#440154"/><rect x="603.91" y="213.6" width="5.75" height="2.4" fill="#bade28"/><rect x="603.91" y="216.0" width="5.75" height="2.4" fill="#f7e620"/><rect x="609.64" y="148.8" width="5.75" height="2.4" fill="#f7e620"/><rect x="609.64" y="175.2" width="5.75" height="2.4" fill="#f7e620"/><rect x="609.64" y="184.8" width="5.75" height="16.8" fill="#f7e620"/><rect x="609.64" y="201.6" width="5.75" height="2.4" fill="#bade28"/><rect x="609.64" y="204.0" width="5.75" height="2.4" fill="#29798e"/><rect x="609.64" y="206.4" width="5.75" height="4.8" fill="#440154"/><rect x="609.64" y="211.2" width="5.75" height="2.4" fill="#74d055"/><rect x="609.64" y="213.6" width="5.75" height="4.8" fill="#f7e620"/><rect x="615.37" y="148.8" width="5.75" height="2.4" fill="#f7e620"/><rect x="615.37" y="175.2" width="5.75" height="2.4" fill="#f7e620"/><rect x="615.37" y="180.0" width="5.75" height="4.8" fill="#f7e620"/><rect x="615.37" y="194.4" width="5.75" height="2.4" fill="#f7e620"/><rect x="615.37" y="199.2" width="5.75" height="2.4" fill="#f7e620"/><rect x="615.37" y="201.6" width="5.75" height="2.4" fill="#74d055"/><rect x="615.37" y="204.0" width="5.75" height="2.4" fill="#1f958b"/><rect x="615.37" y="206.4" width="5.75" height="4.8" fill="#440154"/><rect x="615.37" y="211.2" width="5.75" height="2.4" fill="#bade28"/><rect x="615.37" y="213.6" width="5.75" height="2.4" fill="#f7e620"/><rect x="621.11" y="148.8" width="5.75" height="2.4" fill="#f7e620"/><rect x="621.11" y="175.2" width="5.75" height="2.4" fill="#f7e620"/><rect x="621.11" y="180.0" width="5.75" height="4.8" fill="#f7e620"/><rect x="621.11" y="192.0" width="5.75" height="7.2" fill="#f7e620"/><rect x="621.11" y="199.2" width="5.75" height="2.4" fill="#bade28"/><rect x="621.11" y="201.6" width="5.75" height="2.4" fill="#29798e"/><rect x="621.11" y="204.0" width="5.75" height="4.8" fill="#440154"/><rect x="621.11" y="208.8" width="5.75" height="2.4" fill="#74d055"/><rect x="621.11" y="211.2" width="5.75" height="2.4" fill="#f7e620"/><rect x="626.84" y="148.8" width="5.75" height="2.4" fill="#f7e620"/><rect x="626.84" y="153.6" width="5.75" height="2.4" fill="#f7e620"/><rect x="626.84" y="160.8" width="5.75" height="2.4" fill="#f7e620"/><rect x="626.84" y="175.2" width="5.75" height="2.4" fill="#f7e620"/><rect x="626.84" y="180.0" width="5.75" height="2.4" fill="#f7e620"/><rect x="626.84" y="187.2" width="5.75" height="7.2" fill="#f7e620"/><rect x="626.84" y="196.8" width="5.75" height="2.4" fill="#f7e620"/><rect x="626.84" y="199.2" width="5.75" height="2.4" fill="#74d055"/><rect x="626.84" y="201.6" width="5.75" height="2.4" fill="#29798e"/><rect x="626.84" y="204.0" width="5.75" height="4.8" fill="#440154"/><rect x="626.84" y="208.8" width="5.75" height="2.4" fill="#bade28"/><rect x="626.84" y="211.2" width="5.75" height="2.4" fill="#f7e620"/><rect x="632.57" y="156.0" width="5.75" height="2.4" fill="#f7e620"/><rect x="632.57" y="160.8" width="5.75" height="2.4" fill="#f7e620"/><rect x="632.57" y="175.2" width="5.75" height="2.4" fill="#f7e620"/><rect x="632.57" y="187.2" width="5.75" height="2.4" fill="#f7e620"/><rect x="632.57" y="192.0" width="5.75" height="4.8" fill="#f7e620"/><rect x="632.57" y="196.8" width="5.75" height="2.4" fill="#bade28"/><rect x="632.57" y="199.2" width="5.75" height="2.4" fill="#1f958b"/><rect x="632.57" y="201.6" width="5.75" height="4.8" fill="#440154"/><rect x="632.57" y="206.4" width="5.75" height="2.4" fill="#74d055"/><rect x="632.57" y="208.8" width="5.75" height="4.8" fill="#f7e620"/><rect x="638.30" y="156.0" width="5.75" height="2.4" fill="#f7e620"/><rect x="638.30" y="163.2" width="5.75" height="2.4" fill="#f7e620"/><rect x="638.30" y="172.8" width="5.75" height="4.8" fill="#f7e620"/><rect x="638.30" y="187.2" width="5.75" height="2.4" fill="#f7e620"/><rect x="638.30" y="192.0" width="5.75" height="4.8" fill="#f7e620"/><rect x="638.30" y="196.8" width="5.75" height="2.4" fill="#74d055"/><rect x="638.30" y="199.2" width="5.75" height="2.4" fill="#29798e"/><rect x="638.30" y="201.6" width="5.75" height="4.8" fill="#440154"/><rect x="638.30" y="206.4" width="5.75" height="2.4" fill="#bade28"/><rect x="638.30" y="208.8" width="5.75" height="2.4" fill="#f7e620"/><rect x="644.04" y="160.8" width="5.75" height="4.8" fill="#f7e620"/><rect x="644.04" y="170.4" width="5.75" height="2.4" fill="#f7e620"/><rect x="644.04" y="180.0" width="5.75" height="2.4" fill="#f7e620"/><rect x="644.04" y="187.2" width="5.75" height="2.4" fill="#f7e620"/><rect x="644.04" y="192.0" width="5.75" height="4.8" fill="#f7e620"/><rect x="644.04" y="196.8" width="5.75" height="2.4" fill="#bade28"/><rect x="644.04" y="199.2" width="5.75" height="2.4" fill="#29798e"/><rect x="644.04" y="201.6" width="5.75" height="4.8" fill="#440154"/><rect x="644.04" y="206.4" width="5.75" height="2.4" fill="#74d055"/><rect x="644.04" y="208.8" width="5.75" height="2.4" fill="#f7e620"/><rect x="649.77" y="163.2" width="5.75" height="4.8" fill="#f7e620"/><rect x="649.77" y="170.4" width="5.75" height="2.4" fill="#f7e620"/><rect x="649.77" y="180.0" width="5.75" height="2.4" fill="#f7e620"/><rect x="649.77" y="194.4" width="5.75" height="2.4" fill="#f7e620"/><rect x="649.77" y="196.8" width="5.75" height="2.4" fill="#74d055"/><rect x="649.77" y="199.2" width="5.75" height="2.4" fill="#1f958b"/><rect x="649.77" y="201.6" width="5.75" height="4.8" fill="#440154"/><rect x="649.77" y="206.4" width="5.75" height="2.4" fill="#bade28"/><rect x="649.77" y="208.8" width="5.75" height="2.4" fill="#f7e620"/><rect x="655.50" y="168.0" width="5.75" height="4.8" fill="#f7e620"/><rect x="655.50" y="180.0" width="5.75" height="2.4" fill="#f7e620"/><rect x="655.50" y="192.0" width="5.75" height="2.4" fill="#f7e620"/><rect x="655.50" y="194.4" width="5.75" height="2.4" fill="#bade28"/><rect x="655.50" y="196.8" width="5.75" height="2.4" fill="#29798e"/><rect x="655.50" y="199.2" width="5.75" height="4.8" fill="#440154"/><rect x="655.50" y="204.0" width="5.75" height="2.4" fill="#74d055"/><rect x="655.50" y="206.4" width="5.75" height="4.8" fill="#f7e620"/><rect x="661.24" y="165.6" width="5.75" height="2.4" fill="#f7e620"/><rect x="661.24" y="172.8" width="5.75" height="2.4" fill="#f7e620"/><rect x="661.24" y="180.0" width="5.75" height="2.4" fill="#f7e620"/><rect x="661.24" y="187.2" width="5.75" height="7.2" fill="#f7e620"/><rect x="661.24" y="194.4" width="5.75" height="2.4" fill="#74d055"/><rect x="661.24" y="196.8" width="5.75" height="2.4" fill="#29798e"/><rect x="661.24" y="199.2" width="5.75" height="4.8" fill="#440154"/><rect x="661.24" y="204.0" width="5.75" height="2.4" fill="#bade28"/><rect x="661.24" y="206.4" width="5.75" height="2.4" fill="#f7e620"/><rect x="666.97" y="165.6" width="5.75" height="2.4" fill="#f7e620"/><rect x="666.97" y="175.2" width="5.75" height="2.4" fill="#f7e620"/><rect x="666.97" y="187.2" width="5.75" height="4.8" fill="#f7e620"/><rect x="666.97" y="192.0" width="5.75" height="2.4" fill="#bade28"/><rect x="666.97" y="194.4" width="5.75" height="2.4" fill="#1f958b"/><rect x="666.97" y="196.8" width="5.75" height="4.8" fill="#440154"/><rect x="666.97" y="201.6" width="5.75" height="2.4" fill="#74d055"/><rect x="666.97" y="204.0" width="5.75" height="2.4" fill="#f7e620"/><rect x="672.70" y="163.2" width="5.75" height="2.4" fill="#f7e620"/><rect x="672.70" y="187.2" width="5.75" height="4.8" fill="#f7e620"/><rect x="672.70" y="192.0" width="5.75" height="2.4" fill="#74d055"/><rect x="672.70" y="194.4" width="5.75" height="2.4" fill="#29798e"/><rect x="672.70" y="196.8" width="5.75" height="4.8" fill="#440154"/><rect x="672.70" y="201.6" width="5.75" height="2.4" fill="#bade28"/><rect x="672.70" y="204.0" width="5.75" height="2.4" fill="#f7e620"/><rect x="678.44" y="160.8" width="5.75" height="2.4" fill="#f7e620"/><rect x="678.44" y="184.8" width="5.75" height="2.4" fill="#f7e620"/><rect x="678.44" y="187.2" width="5.75" height="4.8" fill="#bade28"/><rect x="678.44" y="192.0" width="5.75" height="2.4" fill="#29798e"/><rect x="678.44" y="194.4" width="5.75" height="4.8" fill="#440154"/><rect x="678.44" y="199.2" width="5.75" height="2.4" fill="#74d055"/><rect x="678.44" y="201.6" width="5.75" height="4.8" fill="#f7e620"/><rect x="684.17" y="160.8" width="5.75" height="2.4" fill="#f7e620"/><rect x="684.17" y="184.8" width="5.75" height="2.4" fill="#f7e620"/><rect x="684.17" y="187.2" width="5.75" height="2.4" fill="#bade28"/><rect x="684.17" y="189.6" width="5.75" height="2.4" fill="#74d055"/><rect x="684.17" y="192.0" width="5.75" height="2.4" fill="#1f958b"/><rect x="684.17" y="194.4" width="5.75" height="4.8" fill="#440154"/><rect x="684.17" y="199.2" width="5.75" height="2.4" fill="#bade28"/><rect x="684.17" y="201.6" width="5.75" height="2.4" fill="#f7e620"/><rect x="689.90" y="158.4" width="5.75" height="2.4" fill="#f7e620"/><rect x="689.90" y="184.8" width="5.75" height="2.4" fill="#f7e620"/><rect x="689.90" y="187.2" width="5.75" height="4.8" fill="#bade28"/><rect x="689.90" y="192.0" width="5.75" height="2.4" fill="#29798e"/><rect x="689.90" y="194.4" width="5.75" height="4.8" fill="#440154"/><rect x="689.90" y="199.2" width="5.75" height="2.4" fill="#74d055"/><rect x="689.90" y="201.6" width="5.75" height="2.4" fill="#f7e620"/><rect x="695.63" y="156.0" width="5.75" height="2.4" fill="#f7e620"/><rect x="695.63" y="182.4" width="5.75" height="2.4" fill="#f7e620"/><rect x="695.63" y="184.8" width="5.75" height="2.4" fill="#bade28"/><rect x="695.63" y="187.2" width="5.75" height="2.4" fill="#74d055"/><rect x="695.63" y="189.6" width="5.75" height="2.4" fill="#29798e"/><rect x="695.63" y="192.0" width="5.75" height="4.8" fill="#440154"/><rect x="695.63" y="196.8" width="5.75" height="2.4" fill="#bade28"/><rect x="695.63" y="199.2" width="5.75" height="2.4" fill="#f7e620"/><rect x="701.37" y="153.6" width="5.75" height="2.4" fill="#f7e620"/><rect x="701.37" y="182.4" width="5.75" height="2.4" fill="#f7e620"/><rect x="701.37" y="184.8" width="5.75" height="4.8" fill="#bade28"/><rect x="701.37" y="189.6" width="5.75" height="2.4" fill="#1f958b"/><rect x="701.37" y="192.0" width="5.75" height="4.8" fill="#440154"/><rect x="701.37" y="196.8" width="5.75" height="2.4" fill="#74d055"/><rect x="701.37" y="199.2" width="5.75" height="4.8" fill="#f7e620"/><rect x="707.10" y="151.2" width="5.75" height="2.4" fill="#f7e620"/><rect x="707.10" y="182.4" width="5.75" height="2.4" fill="#f7e620"/><rect x="707.10" y="184.8" width="5.75" height="2.4" fill="#bade28"/><rect x="707.10" y="187.2" width="5.75" height="2.4" fill="#74d055"/><rect x="707.10" y="189.6" width="5.75" height="2.4" fill="#29798e"/><rect x="707.10" y="192.0" width="5.75" height="4.8" fill="#440154"/><rect x="707.10" y="196.8" width="5.75" height="2.4" fill="#bade28"/><rect x="707.10" y="199.2" width="5.75" height="2.4" fill="#f7e620"/><rect x="712.83" y="148.8" width="5.75" height="2.4" fill="#f7e620"/><rect x="712.83" y="182.4" width="5.75" height="2.4" fill="#f7e620"/><rect x="712.83" y="184.8" width="5.75" height="4.8" fill="#bade28"/><rect x="712.83" y="189.6" width="5.75" height="2.4" fill="#29798e"/><rect x="712.83" y="192.0" width="5.75" height="4.8" fill="#440154"/><rect x="712.83" y="196.8" width="5.75" height="2.4" fill="#74d055"/><rect x="712.83" y="199.2" width="5.75" height="2.4" fill="#f7e620"/><rect x="718.57" y="146.4" width="5.75" height="2.4" fill="#f7e620"/><rect x="718.57" y="182.4" width="5.75" height="2.4" fill="#f7e620"/><rect x="718.57" y="184.8" width="5.75" height="2.4" fill="#bade28"/><rect x="718.57" y="187.2" width="5.75" height="2.4" fill="#74d055"/><rect x="718.57" y="189.6" width="5.75" height="2.4" fill="#1f958b"/><rect x="718.57" y="192.0" width="5.75" height="4.8" fill="#440154"/><rect x="718.57" y="196.8" width="5.75" height="2.4" fill="#bade28"/><rect x="718.57" y="199.2" width="5.75" height="2.4" fill="#f7e620"/><rect x="724.30" y="144.0" width="5.75" height="2.4" fill="#f7e620"/><rect x="724.30" y="180.0" width="5.75" height="2.4" fill="#f7e620"/><rect x="724.30" y="182.4" width="5.75" height="4.8" fill="#bade28"/><rect x="724.30" y="187.2" width="5.75" height="2.4" fill="#29798e"/><rect x="724.30" y="189.6" width="5.75" height="4.8" fill="#440154"/><rect x="724.30" y="194.4" width="5.75" height="2.4" fill="#bade28"/><rect x="724.30" y="196.8" width="5.75" height="7.2" fill="#f7e620"/><rect x="730.03" y="144.0" width="5.75" height="2.4" fill="#f7e620"/><rect x="730.03" y="180.0" width="5.75" height="2.4" fill="#f7e620"/><rect x="730.03" y="182.4" width="5.75" height="2.4" fill="#bade28"/><rect x="730.03" y="184.8" width="5.75" height="2.4" fill="#74d055"/><rect x="730.03" y="187.2" width="5.75" height="2.4" fill="#29798e"/><rect x="730.03" y="189.6" width="5.75" height="4.8" fill="#440154"/><rect x="730.03" y="194.4" width="5.75" height="4.8" fill="#bade28"/><rect x="730.03" y="199.2" width="5.75" height="2.4" fill="#f7e620"/><rect x="735.77" y="144.0" width="5.75" height="2.4" fill="#f7e620"/><rect x="735.77" y="180.0" width="5.75" height="2.4" fill="#f7e620"/><rect x="735.77" y="182.4" width="5.75" height="4.8" fill="#bade28"/><rect x="735.77" y="187.2" width="5.75" height="2.4" fill="#1f958b"/><rect x="735.77" y="189.6" width="5.75" height="4.8" fill="#440154"/><rect x="735.77" y="194.4" width="5.75" height="2.4" fill="#bade28"/><rect x="735.77" y="196.8" width="5.75" height="7.2" fill="#f7e620"/><rect x="741.50" y="141.6" width="5.75" height="2.4" fill="#f7e620"/><rect x="741.50" y="177.6" width="5.75" height="2.4" fill="#f7e620"/><rect x="741.50" y="180.0" width="5.75" height="2.4" fill="#bade28"/><rect x="741.50" y="182.4" width="5.75" height="2.4" fill="#74d055"/><rect x="741.50" y="184.8" width="5.75" height="2.4" fill="#29798e"/><rect x="741.50" y="187.2" width="5.75" height="4.8" fill="#440154"/><rect x="741.50" y="192.0" width="5.75" height="4.8" fill="#bade28"/><rect x="741.50" y="196.8" width="5.75" height="2.4" fill="#f7e620"/><rect x="747.23" y="141.6" width="5.75" height="2.4" fill="#f7e620"/><rect x="747.23" y="177.6" width="5.75" height="2.4" fill="#f7e620"/><rect x="747.23" y="180.0" width="5.75" height="4.8" fill="#bade28"/><rect x="747.23" y="184.8" width="5.75" height="2.4" fill="#29798e"/><rect x="747.23" y="187.2" width="5.75" height="4.8" fill="#440154"/><rect x="747.23" y="192.0" width="5.75" height="2.4" fill="#bade28"/><rect x="747.23" y="194.4" width="5.75" height="7.2" fill="#f7e620"/><rect x="752.96" y="141.6" width="3.06" height="2.4" fill="#f7e620"/><rect x="752.96" y="177.6" width="3.06" height="2.4" fill="#f7e620"/><rect x="752.96" y="180.0" width="3.06" height="2.4" fill="#bade28"/><rect x="752.96" y="182.4" width="3.06" height="2.4" fill="#74d055"/><rect x="752.96" y="184.8" width="3.06" height="2.4" fill="#1f958b"/><rect x="752.96" y="187.2" width="3.06" height="4.8" fill="#440154"/><rect x="752.96" y="192.0" width="3.06" height="4.8" fill="#bade28"/><rect x="752.96" y="196.8" width="3.06" height="2.4" fill="#f7e620"/></g>
<path d="M154.5 60 V420 M181.5 60 V420 M200.5 60 V420 M215.5 60 V420 M227.5 60 V420 M237.5 60 V420 M246.5 60 V420 M253.5 60 V420 M260.5 60 V420 M306.5 60 V420 M333.5 60 V420 M352.5 60 V420 M367.5 60 V420 M379.5 60 V420 M389.5 60 V420 M398.5 60 V420 M406.5 60 V420 M413.5 60 V420 M459.5 60 V420 M485.5 60 V420 M504.5 60 V420 M519.5 60 V420 M531.5 60 V420 M542.5 60 V420 M550.5 60 V420 M558.5 60 V420 M565.5 60 V420 M611.5 60 V420 M638.5 60 V420 M657.5 60 V420 M672.5 60 V420 M684.5 60 V420 M694.5 60 V420 M703.5 60 V420 M711.5 60 V420 M717.5 60 V420 M108 84.5 H756 M108 132.5 H756 M108 180.5 H756 M108 228.5 H756 M108 276.5 H756 M108 324.5 H756 M108 372.5 H756" stroke="#b0b0b0" stroke-width="1.11" fill="none" shape-rendering="crispEdges"/>
<g clip-path="url(#axclip)" fill="none" stroke="#666666" stroke-width="2.78" stroke-linejoin="round" stroke-linecap="round">
<polyline points="260.37,343.20 295.48,340.08 295.48,340.08 352.10,340.08 352.10,340.07 397.97,346.07 397.97,346.08 426.97,332.88 426.97,332.87 470.67,296.75 470.67,296.75 509.26,278.63 509.26,278.64 519.24,278.64 519.24,278.63 531.30,297.59 531.30,297.60 565.10,333.00 565.10,333.00 577.17,339.00 577.17,338.99 594.53,329.10 594.53,329.11 616.98,366.00 616.98,366.01 641.24,384.01 641.24,383.99 664.63,389.99 664.63,390.00 693.87,390.00 693.87,390.00 718.13,384.01 718.13,384.00 746.05,384.00 746.05,383.97 756.07,385.17"/>
<polyline points="260.37,159.60 312.54,173.76 312.54,173.77 337.34,205.21 337.34,205.20 397.97,227.99 397.97,228.00 501.08,175.20 501.08,175.19 513.72,171.59 513.72,171.59 534.53,182.40 534.53,182.40 549.51,212.40 549.51,212.39 593.68,227.99 593.68,228.01 610.97,272.40 610.97,272.39 756.07,249.51"/>
</g>
<rect x="108.5" y="60.5" width="648" height="360" fill="none" stroke="#000" stroke-width="1.11" shape-rendering="crispEdges"/>
<path d="M108.5 420 V425.3 M260.5 420 V425.3 M413.5 420 V425.3 M565.5 420 V425.3 M717.5 420 V425.3 M102.7 84.5 H108 M102.7 132.5 H108 M102.7 180.5 H108 M102.7 228.5 H108 M102.7 276.5 H108 M102.7 324.5 H108 M102.7 372.5 H108 M102.7 420.5 H108" stroke="#000" stroke-width="1.11" fill="none"/>
<path d="M154.5 420 V423.3 M181.5 420 V423.3 M200.5 420 V423.3 M215.5 420 V423.3 M227.5 420 V423.3 M237.5 420 V423.3 M246.5 420 V423.3 M253.5 420 V423.3 M306.5 420 V423.3 M333.5 420 V423.3 M352.5 420 V423.3 M367.5 420 V423.3 M379.5 420 V423.3 M389.5 420 V423.3 M398.5 420 V423.3 M406.5 420 V423.3 M459.5 420 V423.3 M485.5 420 V423.3 M504.5 420 V423.3 M519.5 420 V423.3 M531.5 420 V423.3 M542.5 420 V423.3 M550.5 420 V423.3 M558.5 420 V423.3 M611.5 420 V423.3 M638.5 420 V423.3 M657.5 420 V423.3 M672.5 420 V423.3 M684.5 420 V423.3 M694.5 420 V423.3 M703.5 420 V423.3 M711.5 420 V423.3" stroke="#000" stroke-width="0.83" fill="none"/>
<text transform="translate(93.03 440.72) scale(0.9821 1)" x="0.37 9.10 13.73 22.71" y="0" font-size="14.70" fill="#000">0.01</text>
<text transform="translate(249.37 440.72) scale(0.9748 1)" x="0.40 9.18 13.93" y="0" font-size="14.70" fill="#000">0.1</text>
<text transform="translate(409.10 440.72) scale(0.9512 1)" x="0.58" y="0" font-size="14.70" fill="#000">1</text>
<text transform="translate(556.29 440.72) scale(0.9748 1)" x="0.46 9.51" y="0" font-size="14.70" fill="#000">10</text>
<text transform="translate(704.29 440.72) scale(0.9821 1)" x="0.43 9.40 18.31" y="0" font-size="14.70" fill="#000">100</text>
<text transform="translate(60.00 425.50) scale(0.9844 1)" x="1.61 12.17 21.06 29.94" y="0" font-size="14.70" fill="#000">−200</text>
<text transform="translate(60.15 377.50) scale(0.9857 1)" x="1.60 12.21 21.21 30.15" y="0" font-size="14.70" fill="#000">−180</text>
<text transform="translate(60.15 329.50) scale(0.9936 1)" x="1.56 12.08 21.01 29.88" y="0" font-size="14.70" fill="#000">−160</text>
<text transform="translate(59.88 281.50) scale(0.9824 1)" x="1.62 12.26 21.23 30.14" y="0" font-size="14.70" fill="#000">−140</text>
<text transform="translate(59.88 233.50) scale(0.9698 1)" x="1.70 12.47 21.56 30.58" y="0" font-size="14.70" fill="#000">−120</text>
<text transform="translate(59.88 185.50) scale(0.9821 1)" x="1.63 12.27 21.24 30.15" y="0" font-size="14.70" fill="#000">−100</text>
<text transform="translate(68.23 137.50) scale(1.0013 1)" x="1.51 11.95 20.75" y="0" font-size="14.70" fill="#000">−80</text>
<text transform="translate(68.23 89.50) scale(1.0131 1)" x="1.45 11.77 20.47" y="0" font-size="14.70" fill="#000">−60</text>
<text transform="translate(131.94 52.47) scale(0.9748 1)" x="0.01 10.65 14.95 18.18 26.32 35.39 44.64 53.42 57.91 62.21 72.85 83.07 92.66 97.41 101.89 106.64 115.69 124.66 133.44 138.13 146.72 157.45 165.11 169.86 174.35 179.03 188.01 196.99 205.96 214.59 220.01 229.11 237.80 243.15 252.13 260.58 269.83 278.80 287.71 292.52 301.50 310.41 315.22 324.20 332.98 337.32 342.47 347.15 356.13 365.11 374.08 382.71 388.13 397.17 405.80 411.21 420.25 428.70 437.95 446.92 455.83 460.64 469.62 478.53 483.34 492.32 501.10 505.85 510.33 515.02 523.99 532.97 541.75 546.01 553.62 562.53 571.97 585.29 594.14 603.49 608.34" y="0" font-size="14.70" fill="#000">HI.PAT5..HNE | 100.0Hz | 2025-11-30T00:00:00 - 2025-12-10T23:00:03 | 455 segments</text>
<text transform="translate(399.86 460.28) scale(0.9795 1)" x="-0.88 8.29 17.20 22.93 26.79 35.66 44.47 49.51 54.32 62.40" y="0" font-size="14.70" fill="#000">Period [s]</text>
<g transform="translate(47.40 330.61) rotate(-90.000)"><text transform="translate(0 -0.00) scale(1.0348 1)" x="-0.32 9.58 22.40 30.97 34.70 38.78 43.61 52.12 60.50 68.80 73.55" y="0" font-size="14.70">Amplitude [</text><text transform="translate(0 -0.00) scale(1.0682 1)" x="75.96" y="0" font-size="14.70" font-style="italic">m</text><text transform="translate(0 -5.36) scale(0.9600 1)" x="99.42" y="0" font-size="10.29">2</text><text transform="translate(0 1.50) scale(1.1446 1)" x="88.81" y="0" font-size="14.70">/</text><text transform="translate(0 -0.00) scale(0.9680 1)" x="109.90" y="0" font-size="14.70" font-style="italic">s</text><text transform="translate(0 -5.36) scale(0.9961 1)" x="114.91" y="0" font-size="10.29">4</text><text transform="translate(0 1.50) scale(1.1446 1)" x="105.52" y="0" font-size="14.70">/</text><text transform="translate(0 -0.00) scale(0.9923 1)" x="126.11 136.67" y="0" font-size="14.70" font-style="italic">Hz</text><text transform="translate(0 -0.00) scale(0.9678 1)" x="148.42 153.49 158.57 163.87 172.52 183.09" y="0" font-size="14.70">] [dB]</text></g>
<rect x="797" y="60" width="18" height="360" fill="url(#cbgrad)"/>
<rect x="797.5" y="60.5" width="18" height="360" fill="none" stroke="#000" stroke-width="1.11" shape-rendering="crispEdges"/>
<path d="M815 420.5 H820.3 M815 360.5 H820.3 M815 300.5 H820.3 M815 240.5 H820.3 M815 180.5 H820.3 M815 120.5 H820.3 M815 60.5 H820.3" stroke="#000" stroke-width="1.11" fill="none"/>
<text transform="translate(824.62 425.50) scale(0.9960 1)" x="0.30" y="0" font-size="14.70" fill="#000">0</text>
<text transform="translate(824.22 365.50) scale(0.9400 1)" x="0.57" y="0" font-size="14.70" fill="#000">5</text>
<text transform="translate(824.22 305.50) scale(0.9748 1)" x="0.46 9.51" y="0" font-size="14.70" fill="#000">10</text>
<text transform="translate(824.22 245.50) scale(0.9453 1)" x="0.61 9.93" y="0" font-size="14.70" fill="#000">15</text>
<text transform="translate(824.22 185.50) scale(0.9784 1)" x="0.38 9.33" y="0" font-size="14.70" fill="#000">20</text>
<text transform="translate(824.22 125.50) scale(0.9498 1)" x="0.52 9.73" y="0" font-size="14.70" fill="#000">25</text>
<text transform="translate(823.82 65.50) scale(0.9763 1)" x="0.39 9.36" y="0" font-size="14.70" fill="#000">30</text>
<text transform="translate(859.20 254.46) rotate(-90.000) scale(1.1359 1)" x="0.38 4.08 16.78" y="0" font-size="14.70" fill="#000">[%]</text>
<g shape-rendering="crispEdges"><rect x="164.10" y="474" width="94.70" height="9.6" fill="#008000"/><rect x="307.10" y="474" width="15.60" height="9.6" fill="#008000"/><rect x="330.20" y="474" width="405.40" height="9.6" fill="#008000"/><rect x="211.30" y="483.6" width="47.50" height="14.4" fill="#0000ff"/><rect x="307.10" y="483.6" width="15.60" height="14.4" fill="#0000ff"/><rect x="330.20" y="483.6" width="405.40" height="14.4" fill="#0000ff"/><rect x="338" y="483.6" width="1" height="14.4" fill="#fff"/><rect x="354" y="483.6" width="1" height="14.4" fill="#fff"/><rect x="449" y="483.6" width="1" height="14.4" fill="#fff"/><rect x="640" y="483.6" width="1" height="14.4" fill="#fff"/></g>
<rect x="135.5" y="474.5" width="630" height="24" fill="none" stroke="#000" stroke-width="1.11" shape-rendering="crispEdges"/>
<path d="M164.5 498 V503.3 M259.5 498 V503.3 M355.5 498 V503.3 M450.5 498 V503.3 M545.5 498 V503.3 M641.5 498 V503.3 M736.5 498 V503.3" stroke="#000" stroke-width="1.11" fill="none"/>
<text transform="translate(92.75 557.31) rotate(-30.000) scale(0.9688 1)" x="0.43 9.46 18.49 27.52 36.20 41.65 50.82 59.55 64.94 74.04" y="0" font-size="14.70" fill="#000">2025-11-29</text>
<text transform="translate(187.51 557.25) rotate(-30.000) scale(0.9647 1)" x="0.45 9.52 18.59 27.66 36.36 41.84 50.98 59.68 65.10 74.24" y="0" font-size="14.70" fill="#000">2025-12-01</text>
<text transform="translate(283.87 557.19) rotate(-30.000) scale(0.9653 1)" x="0.44 9.51 18.57 27.64 36.34 41.82 50.95 59.65 65.06 74.13" y="0" font-size="14.70" fill="#000">2025-12-03</text>
<text transform="translate(378.53 557.59) rotate(-30.000) scale(0.9631 1)" x="0.45 9.54 18.62 27.71 36.42 41.92 51.07 59.78 65.22 74.30" y="0" font-size="14.70" fill="#000">2025-12-05</text>
<text transform="translate(474.78 557.19) rotate(-30.000) scale(0.9675 1)" x="0.43 9.48 18.52 27.57 36.25 41.71 50.82 59.50 64.90 73.95" y="0" font-size="14.70" fill="#000">2025-12-07</text>
<text transform="translate(569.73 557.25) rotate(-30.000) scale(0.9743 1)" x="0.40 9.38 18.36 27.34 35.98 41.39 50.44 59.07 64.42 73.47" y="0" font-size="14.70" fill="#000">2025-12-09</text>
<text transform="translate(664.67 557.31) rotate(-30.000) scale(0.9590 1)" x="0.47 9.60 18.72 27.85 36.59 42.12 51.31 60.05 65.58 74.84" y="0" font-size="14.70" fill="#000">2025-12-11</text>
<rect x="0" y="577" width="900" height="23" fill="#808080"/>
<text transform="translate(9.00 594.50) scale(0.9751 1)" x="-0.20 11.30 20.14 28.99 37.93 43.66 52.95 58.09 67.00 75.84 80.58 89.78 97.89 101.76 111.42 120.13 129.04 137.07 145.85 155.45 166.47 171.03 179.87 188.65 193.33 202.31 211.28 220.25 228.88 234.29 243.33 251.95 257.37 266.40 275.18 279.93 284.41 288.39 299.03 307.89 311.75 319.73 328.66 332.62 341.90 347.12 351.01 359.86 368.41 375.94 380.62 389.66 398.76 407.74 417.03 422.16 431.07 439.91 444.47 453.31 462.09 466.77 475.74 484.72 493.69 502.32 507.73 516.77 525.39 530.80 539.91" y="0" font-size="14.70" fill="#fff">Generated by SeedPSD on 2025-12-14 | Calculations updated on 2025-12-11</text>
</svg></body></html>
